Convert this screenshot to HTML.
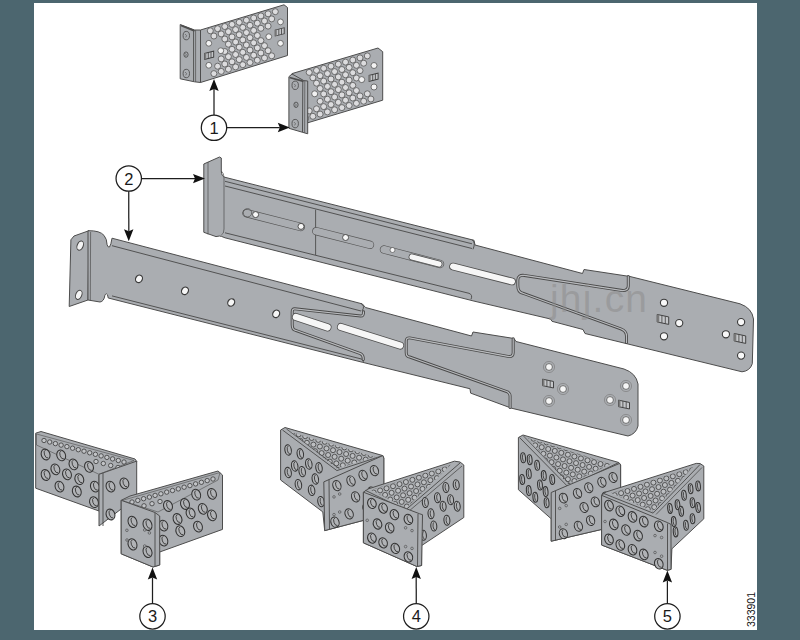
<!DOCTYPE html>
<html><head><meta charset="utf-8"><style>
html,body{margin:0;padding:0;width:800px;height:640px;overflow:hidden;background:#4c666f;}
svg{display:block;}
</style></head><body>
<svg width="800" height="640" viewBox="0 0 800 640">
<rect x="0" y="0" width="800" height="640" fill="#4c666f"/>
<rect x="34" y="3" width="723" height="627" fill="#ffffff"/>
<polygon points="200.5,30.0 284.0,4.8 287.5,7.5 287.5,55.5 200.5,82.5" fill="#aaadb1" stroke="#4d4d4d" stroke-width="1.0" stroke-linejoin="round" />
<g fill="#dcdcde" stroke="#555" stroke-width="0.8"><circle cx="210.3" cy="30.8" r="3.0"/><circle cx="217.6" cy="28.7" r="3.0"/><circle cx="224.8" cy="26.5" r="3.0"/><circle cx="232.0" cy="24.4" r="3.0"/><circle cx="239.2" cy="22.3" r="3.0"/><circle cx="246.4" cy="20.2" r="3.0"/><circle cx="253.7" cy="18.0" r="3.0"/><circle cx="260.9" cy="15.9" r="3.0"/><circle cx="268.1" cy="13.8" r="3.0"/><circle cx="275.3" cy="11.7" r="3.0"/><circle cx="213.9" cy="36.0" r="3.0"/><circle cx="221.2" cy="33.9" r="3.0"/><circle cx="228.4" cy="31.7" r="3.0"/><circle cx="235.6" cy="29.6" r="3.0"/><circle cx="242.8" cy="27.4" r="3.0"/><circle cx="250.0" cy="25.3" r="3.0"/><circle cx="257.3" cy="23.2" r="3.0"/><circle cx="264.5" cy="21.0" r="3.0"/><circle cx="271.7" cy="18.9" r="3.0"/><circle cx="224.8" cy="39.0" r="3.0"/><circle cx="232.0" cy="36.9" r="3.0"/><circle cx="239.2" cy="34.7" r="3.0"/><circle cx="246.4" cy="32.6" r="3.0"/><circle cx="253.7" cy="30.4" r="3.0"/><circle cx="260.9" cy="28.3" r="3.0"/><circle cx="268.1" cy="26.1" r="3.0"/><circle cx="228.4" cy="44.2" r="3.0"/><circle cx="235.6" cy="42.0" r="3.0"/><circle cx="242.8" cy="39.9" r="3.0"/><circle cx="250.0" cy="37.7" r="3.0"/><circle cx="257.3" cy="35.5" r="3.0"/><circle cx="224.8" cy="51.5" r="3.0"/><circle cx="232.0" cy="49.3" r="3.0"/><circle cx="239.2" cy="47.2" r="3.0"/><circle cx="246.4" cy="45.0" r="3.0"/><circle cx="253.7" cy="42.8" r="3.0"/><circle cx="260.9" cy="40.6" r="3.0"/><circle cx="221.2" cy="58.9" r="3.0"/><circle cx="228.4" cy="56.7" r="3.0"/><circle cx="235.6" cy="54.5" r="3.0"/><circle cx="242.8" cy="52.3" r="3.0"/><circle cx="250.0" cy="50.1" r="3.0"/><circle cx="257.3" cy="47.9" r="3.0"/><circle cx="264.5" cy="45.7" r="3.0"/><circle cx="217.6" cy="66.2" r="3.0"/><circle cx="224.8" cy="64.0" r="3.0"/><circle cx="232.0" cy="61.8" r="3.0"/><circle cx="239.2" cy="59.6" r="3.0"/><circle cx="246.4" cy="57.4" r="3.0"/><circle cx="253.7" cy="55.2" r="3.0"/><circle cx="260.9" cy="53.0" r="3.0"/><circle cx="268.1" cy="50.7" r="3.0"/><circle cx="213.9" cy="73.6" r="3.0"/><circle cx="221.2" cy="71.4" r="3.0"/><circle cx="228.4" cy="69.2" r="3.0"/><circle cx="235.6" cy="66.9" r="3.0"/><circle cx="242.8" cy="64.7" r="3.0"/><circle cx="250.0" cy="62.5" r="3.0"/><circle cx="257.3" cy="60.2" r="3.0"/><circle cx="264.5" cy="58.0" r="3.0"/><circle cx="271.7" cy="55.8" r="3.0"/></g>
<circle cx="208.8" cy="43.3" r="2.9" fill="#f2f2f2" stroke="#555" stroke-width="0.8"/>
<circle cx="208.8" cy="65.3" r="2.9" fill="#f2f2f2" stroke="#555" stroke-width="0.8"/>
<circle cx="220.8" cy="50.7" r="2.9" fill="#f2f2f2" stroke="#555" stroke-width="0.8"/>
<circle cx="280.5" cy="21.9" r="2.9" fill="#f2f2f2" stroke="#555" stroke-width="0.8"/>
<circle cx="280.5" cy="43.3" r="2.9" fill="#f2f2f2" stroke="#555" stroke-width="0.8"/>
<circle cx="268.8" cy="36.7" r="2.9" fill="#f2f2f2" stroke="#555" stroke-width="0.8"/>
<g transform="translate(209.2,55.2) skewY(-14)"><rect x="-4.5" y="-3.0" width="9" height="6" fill="#c4c6c9" stroke="#3c3c3c" stroke-width="0.9"/><rect x="-4.5" y="-3.0" width="1.6" height="6" fill="#7a7a7a"/><line x1="-0.9" y1="-3.0" x2="-0.9" y2="3.0" stroke="#444" stroke-width="0.8"/><line x1="1.8" y1="-3.0" x2="1.8" y2="3.0" stroke="#444" stroke-width="0.8"/></g>
<g transform="translate(279.7,31.9) skewY(-14)"><rect x="-4.5" y="-3.0" width="9" height="6" fill="#c4c6c9" stroke="#3c3c3c" stroke-width="0.9"/><rect x="-4.5" y="-3.0" width="1.6" height="6" fill="#7a7a7a"/><line x1="-0.9" y1="-3.0" x2="-0.9" y2="3.0" stroke="#444" stroke-width="0.8"/><line x1="1.8" y1="-3.0" x2="1.8" y2="3.0" stroke="#444" stroke-width="0.8"/></g>
<polygon points="180.2,24.5 194.5,30.0 200.5,30.0 200.5,82.5 194.5,81.8 180.2,78.8" fill="#aaadb1" stroke="#4d4d4d" stroke-width="1.0" stroke-linejoin="round" />
<line x1="181.0" y1="25.5" x2="194.5" y2="30.8" stroke="#4d4d4d" stroke-width="1.8"/>
<line x1="193.6" y1="30.0" x2="193.6" y2="81.5" stroke="#4d4d4d" stroke-width="0.95"/>
<line x1="195.6" y1="30.0" x2="195.6" y2="81.9" stroke="#4d4d4d" stroke-width="0.7"/>
<ellipse cx="186.3" cy="35.6" rx="3.2" ry="4.2" fill="#aaadb1" stroke="#444" stroke-width="0.8"/>
<path d="M185.1,34.1 Q187.8,35.6 185.7,37.4" fill="none" stroke="#555" stroke-width="0.7"/>
<ellipse cx="186.3" cy="73.5" rx="3.2" ry="4.2" fill="#aaadb1" stroke="#444" stroke-width="0.8"/>
<path d="M185.1,72.0 Q187.8,73.5 185.7,75.3" fill="none" stroke="#555" stroke-width="0.7"/>
<ellipse cx="186.0" cy="54.6" rx="2.1" ry="2.7" fill="#aaadb1" stroke="#444" stroke-width="0.8"/>
<path d="M184.8,53.1 Q187.5,54.6 185.4,56.4" fill="none" stroke="#555" stroke-width="0.7"/>
<polygon points="292.0,73.6 378.0,48.0 382.7,51.7 382.7,100.2 307.7,122.8 292.0,127.3" fill="#aaadb1" stroke="#4d4d4d" stroke-width="1.0" stroke-linejoin="round" />
<g fill="#dcdcde" stroke="#555" stroke-width="0.8"><circle cx="309.2" cy="72.4" r="3.0"/><circle cx="316.5" cy="70.4" r="3.0"/><circle cx="323.7" cy="68.3" r="3.0"/><circle cx="331.0" cy="66.2" r="3.0"/><circle cx="338.3" cy="64.2" r="3.0"/><circle cx="345.5" cy="62.1" r="3.0"/><circle cx="352.8" cy="60.0" r="3.0"/><circle cx="360.0" cy="57.9" r="3.0"/><circle cx="367.3" cy="55.9" r="3.0"/><circle cx="312.9" cy="77.8" r="3.0"/><circle cx="320.1" cy="75.7" r="3.0"/><circle cx="327.4" cy="73.6" r="3.0"/><circle cx="334.6" cy="71.6" r="3.0"/><circle cx="341.9" cy="69.5" r="3.0"/><circle cx="349.1" cy="67.4" r="3.0"/><circle cx="356.4" cy="65.3" r="3.0"/><circle cx="363.7" cy="63.2" r="3.0"/><circle cx="316.5" cy="83.2" r="3.0"/><circle cx="323.7" cy="81.1" r="3.0"/><circle cx="331.0" cy="79.0" r="3.0"/><circle cx="338.3" cy="76.9" r="3.0"/><circle cx="345.5" cy="74.8" r="3.0"/><circle cx="352.8" cy="72.7" r="3.0"/><circle cx="360.0" cy="70.6" r="3.0"/><circle cx="320.1" cy="88.5" r="3.0"/><circle cx="327.4" cy="86.4" r="3.0"/><circle cx="334.6" cy="84.3" r="3.0"/><circle cx="341.9" cy="82.2" r="3.0"/><circle cx="349.1" cy="80.1" r="3.0"/><circle cx="356.4" cy="78.0" r="3.0"/><circle cx="323.7" cy="93.9" r="3.0"/><circle cx="331.0" cy="91.7" r="3.0"/><circle cx="338.3" cy="89.6" r="3.0"/><circle cx="345.5" cy="87.5" r="3.0"/><circle cx="352.8" cy="85.4" r="3.0"/><circle cx="320.1" cy="101.3" r="3.0"/><circle cx="327.4" cy="99.2" r="3.0"/><circle cx="334.6" cy="97.0" r="3.0"/><circle cx="341.9" cy="94.9" r="3.0"/><circle cx="349.1" cy="92.8" r="3.0"/><circle cx="356.4" cy="90.6" r="3.0"/><circle cx="309.2" cy="110.9" r="3.0"/><circle cx="316.5" cy="108.8" r="3.0"/><circle cx="323.7" cy="106.6" r="3.0"/><circle cx="331.0" cy="104.5" r="3.0"/><circle cx="338.3" cy="102.3" r="3.0"/><circle cx="345.5" cy="100.2" r="3.0"/><circle cx="352.8" cy="98.0" r="3.0"/><circle cx="360.0" cy="95.9" r="3.0"/><circle cx="367.3" cy="93.8" r="3.0"/><circle cx="305.6" cy="118.4" r="3.0"/><circle cx="312.9" cy="116.3" r="3.0"/><circle cx="320.1" cy="114.1" r="3.0"/><circle cx="327.4" cy="111.9" r="3.0"/><circle cx="334.6" cy="109.8" r="3.0"/><circle cx="341.9" cy="107.6" r="3.0"/><circle cx="349.1" cy="105.5" r="3.0"/><circle cx="356.4" cy="103.3" r="3.0"/><circle cx="363.7" cy="101.2" r="3.0"/><circle cx="370.9" cy="99.0" r="3.0"/></g>
<circle cx="314.7" cy="93.8" r="3.0" fill="#f2f2f2" stroke="#555" stroke-width="0.8"/>
<circle cx="361.7" cy="79.6" r="3.0" fill="#f2f2f2" stroke="#555" stroke-width="0.8"/>
<circle cx="374.0" cy="65.5" r="3.0" fill="#f2f2f2" stroke="#555" stroke-width="0.8"/>
<circle cx="374.0" cy="87.0" r="3.0" fill="#f2f2f2" stroke="#555" stroke-width="0.8"/>
<g transform="translate(373.6,77.2) skewY(-14)"><rect x="-4.5" y="-3.0" width="9" height="6" fill="#c4c6c9" stroke="#3c3c3c" stroke-width="0.9"/><rect x="-4.5" y="-3.0" width="1.6" height="6" fill="#7a7a7a"/><line x1="-0.9" y1="-3.0" x2="-0.9" y2="3.0" stroke="#444" stroke-width="0.8"/><line x1="1.8" y1="-3.0" x2="1.8" y2="3.0" stroke="#444" stroke-width="0.8"/></g>
<polygon points="288.9,76.7 292.0,74.0 303.8,80.6 307.7,81.0 307.7,133.8 302.2,132.2 288.9,128.3" fill="#aaadb1" stroke="#4d4d4d" stroke-width="1.0" stroke-linejoin="round" />
<line x1="289.5" y1="77.5" x2="303.5" y2="81.4" stroke="#4d4d4d" stroke-width="1.8"/>
<line x1="302.8" y1="81.0" x2="302.5" y2="132.2" stroke="#4d4d4d" stroke-width="0.95"/>
<line x1="304.8" y1="81.0" x2="304.6" y2="132.8" stroke="#4d4d4d" stroke-width="0.7"/>
<ellipse cx="295.2" cy="85.3" rx="3.2" ry="4.2" fill="#aaadb1" stroke="#444" stroke-width="0.8"/>
<path d="M294.0,83.8 Q296.7,85.3 294.6,87.1" fill="none" stroke="#555" stroke-width="0.7"/>
<ellipse cx="295.2" cy="123.6" rx="3.2" ry="4.2" fill="#aaadb1" stroke="#444" stroke-width="0.8"/>
<path d="M294.0,122.1 Q296.7,123.6 294.6,125.4" fill="none" stroke="#555" stroke-width="0.7"/>
<ellipse cx="296.0" cy="104.8" rx="2.1" ry="2.7" fill="#aaadb1" stroke="#444" stroke-width="0.8"/>
<path d="M294.8,103.3 Q297.5,104.8 295.4,106.6" fill="none" stroke="#555" stroke-width="0.7"/>
<path d="M203.8,164 L219.5,157 L221.3,158 L221.3,171 Q221.5,176.5 225,177.3 L474,240.3 L475,245 L582.5,273.5 L584,269.5 L630,276.5 L740,303.8 Q752,308 753.5,319 L752.3,363.7 Q750,371 742,371.8 L585,333.5 L583,329.5 L552,321.3 L550.5,319 L474,301.1 L225,237.8 Q221,236 219.5,236 L216,236.6 L203.8,232.3 Z" fill="#aaadb1" stroke="#4d4d4d" stroke-width="1.0" stroke-linejoin="round" />
<line x1="208.0" y1="162.0" x2="208.0" y2="234.5" stroke="#4d4d4d" stroke-width="0.7"/>
<path d="M221.3,171 Q224,173 224,178 L224,229 Q224,234 221.3,235" fill="none" stroke="#4d4d4d" stroke-width="0.7" stroke-linejoin="round" />
<line x1="225.0" y1="181.3" x2="472.0" y2="243.8" stroke="#4d4d4d" stroke-width="0.95"/>
<line x1="225.0" y1="186.0" x2="472.0" y2="248.5" stroke="#4d4d4d" stroke-width="0.95"/>
<path d="M472,239.8 Q476,242.3 473,249.3" fill="none" stroke="#4d4d4d" stroke-width="0.95" stroke-linejoin="round" />
<line x1="225.0" y1="232.8" x2="469.0" y2="293.3" stroke="#4d4d4d" stroke-width="0.95"/>
<path d="M469,293.3 Q473,294.8 471,299.3" fill="none" stroke="#4d4d4d" stroke-width="0.95" stroke-linejoin="round" />
<line x1="315.6" y1="209.7" x2="315.6" y2="255.0" stroke="#4d4d4d" stroke-width="0.9"/>
<line x1="246.5" y1="213.2" x2="300.8" y2="227.0" stroke="#555" stroke-width="8.4" stroke-linecap="round"/>
<line x1="246.5" y1="213.2" x2="300.8" y2="227.0" stroke="#aaadb1" stroke-width="7" stroke-linecap="round"/>
<circle cx="247.5" cy="212.8" r="4.2" fill="none" stroke="#555" stroke-width="0.8"/>
<circle cx="255.6" cy="214.6" r="3.0" fill="#f8f8f8" stroke="#444" stroke-width="0.9"/>
<circle cx="301.0" cy="226.4" r="3.0" fill="#f8f8f8" stroke="#444" stroke-width="0.9"/>
<line x1="316.3" y1="231.2" x2="370.0" y2="244.8" stroke="#555" stroke-width="8.4" stroke-linecap="round"/>
<line x1="316.3" y1="231.2" x2="370.0" y2="244.8" stroke="#aaadb1" stroke-width="7" stroke-linecap="round"/>
<circle cx="345.6" cy="237.5" r="3.0" fill="#f8f8f8" stroke="#444" stroke-width="0.9"/>
<line x1="384.0" y1="249.5" x2="440.0" y2="264.0" stroke="#555" stroke-width="8.4" stroke-linecap="round"/>
<line x1="384.0" y1="249.5" x2="440.0" y2="264.0" stroke="#aaadb1" stroke-width="7" stroke-linecap="round"/>
<line x1="412.0" y1="257.0" x2="439.0" y2="264.0" stroke="#505050" stroke-width="6.800000000000001" stroke-linecap="round"/>
<line x1="412.0" y1="257.0" x2="439.0" y2="264.0" stroke="#f6f6f6" stroke-width="5.2" stroke-linecap="round"/>
<circle cx="392.5" cy="250.0" r="2.5" fill="#f8f8f8" stroke="#555" stroke-width="0.7"/>
<line x1="453.0" y1="266.5" x2="512.0" y2="281.5" stroke="#505050" stroke-width="7.6" stroke-linecap="round"/>
<line x1="453.0" y1="266.5" x2="512.0" y2="281.5" stroke="#f6f6f6" stroke-width="6" stroke-linecap="round"/>
<path d="M628.3,276.5 L628.3,286 Q628.3,290.6 622.5,290.6 L524.5,275.4 Q517.8,274.6 517.8,280 L517.8,285.6 Q517.8,292.5 522.75,293.2 L620.75,328.8 Q626.5,331 626.5,336 L626.5,342.5" fill="none" stroke="#4a4a4a" stroke-width="3.0" stroke-linejoin="round" stroke-linecap="round"/>
<path d="M628.3,276.5 L628.3,286 Q628.3,290.6 622.5,290.6 L524.5,275.4 Q517.8,274.6 517.8,280 L517.8,285.6 Q517.8,292.5 522.75,293.2 L620.75,328.8 Q626.5,331 626.5,336 L626.5,342.5" fill="none" stroke="#b9bbbe" stroke-width="1.2" stroke-linejoin="round" stroke-linecap="round"/>
<circle cx="664.0" cy="302.8" r="3.6" fill="#f8f8f8" stroke="#3a3a3a" stroke-width="1.1"/>
<circle cx="679.2" cy="323.1" r="3.6" fill="#f8f8f8" stroke="#3a3a3a" stroke-width="1.1"/>
<circle cx="664.0" cy="336.3" r="3.6" fill="#f8f8f8" stroke="#3a3a3a" stroke-width="1.1"/>
<circle cx="725.9" cy="334.3" r="3.6" fill="#f8f8f8" stroke="#3a3a3a" stroke-width="1.1"/>
<circle cx="741.1" cy="322.1" r="3.6" fill="#f8f8f8" stroke="#3a3a3a" stroke-width="1.1"/>
<circle cx="741.1" cy="355.6" r="3.6" fill="#f8f8f8" stroke="#3a3a3a" stroke-width="1.1"/>
<g transform="translate(663.0,319.5) skewY(12)"><rect x="-5.8" y="-3.8" width="11.5" height="7.5" fill="#c4c6c9" stroke="#3c3c3c" stroke-width="0.9"/><rect x="-5.8" y="-3.8" width="2.1" height="7.5" fill="#7a7a7a"/><line x1="-1.1" y1="-3.8" x2="-1.1" y2="3.8" stroke="#444" stroke-width="0.8"/><line x1="2.3" y1="-3.8" x2="2.3" y2="3.8" stroke="#444" stroke-width="0.8"/></g>
<g transform="translate(740.0,338.5) skewY(12)"><rect x="-5.8" y="-3.8" width="11.5" height="7.5" fill="#c4c6c9" stroke="#3c3c3c" stroke-width="0.9"/><rect x="-5.8" y="-3.8" width="2.1" height="7.5" fill="#7a7a7a"/><line x1="-1.1" y1="-3.8" x2="-1.1" y2="3.8" stroke="#444" stroke-width="0.8"/><line x1="2.3" y1="-3.8" x2="2.3" y2="3.8" stroke="#444" stroke-width="0.8"/></g>
<polygon points="70.9,239.8 74.0,236.0 89.0,230.7 88.0,300.0 69.2,306.5" fill="#aaadb1" stroke="#4d4d4d" stroke-width="1.0" stroke-linejoin="round" />
<ellipse cx="80.2" cy="245.6" rx="3.0" ry="4.8" transform="rotate(22.0 80.2 245.6)" fill="#f4f4f4" stroke="#444" stroke-width="1.0"/>
<ellipse cx="78.8" cy="294.8" rx="3.0" ry="4.8" transform="rotate(22.0 78.8 294.8)" fill="#f4f4f4" stroke="#444" stroke-width="1.0"/>
<path d="M88,230.7 Q100,230.5 104,235.4 Q107,239 107.1,244.75 Q108,247.8 109.5,247 Q111,245 112,238.2 L362.3,303.9 L365.5,307.5 L471.5,336 L473,332 L514,338.5 L516,341.5 L624,369 Q636,373 638,384 L638,426 Q636,434 628,436 L511.5,408.2 L470.6,393.1 L470,388.75 L362.5,362.3 L108.25,298.0 Q107.5,293.5 106.5,293.8 Q104.9,294.5 104.9,295.25 Q104,301.5 100,302 L88,300 Z" fill="#aaadb1" stroke="#4d4d4d" stroke-width="1.0" stroke-linejoin="round" />
<line x1="90.6" y1="232.0" x2="90.3" y2="300.5" stroke="#4d4d4d" stroke-width="0.7"/>
<line x1="112.0" y1="245.7" x2="361.0" y2="311.0" stroke="#4d4d4d" stroke-width="0.95"/>
<line x1="112.0" y1="295.9" x2="361.0" y2="358.9" stroke="#4d4d4d" stroke-width="0.95"/>
<path d="M361,358.9 Q365,359.9 363,362.4" fill="none" stroke="#4d4d4d" stroke-width="0.95" stroke-linejoin="round" />
<path d="M361,303.5 Q365.5,306.0 362,311.0" fill="none" stroke="#4d4d4d" stroke-width="0.95" stroke-linejoin="round" />
<ellipse cx="139.0" cy="278.8" rx="3.3" ry="3.9" transform="rotate(30.0 139.0 278.8)" fill="#f6f6f6" stroke="#3a3a3a" stroke-width="1.2"/>
<ellipse cx="185.0" cy="290.8" rx="3.3" ry="3.9" transform="rotate(30.0 185.0 290.8)" fill="#f6f6f6" stroke="#3a3a3a" stroke-width="1.2"/>
<ellipse cx="231.2" cy="302.5" rx="3.3" ry="3.9" transform="rotate(30.0 231.2 302.5)" fill="#f6f6f6" stroke="#3a3a3a" stroke-width="1.2"/>
<ellipse cx="276.2" cy="313.8" rx="3.3" ry="3.9" transform="rotate(30.0 276.2 313.8)" fill="#f6f6f6" stroke="#3a3a3a" stroke-width="1.2"/>
<path d="M363.5,311.8 Q363.8,316.3 360.5,316.0 L294.8,308.8 Q292.2,308.6 292.2,312 L292.2,324.5 Q292.2,329.8 295.5,330.3 L360.5,353.6 Q363.5,355 363.3,359.5" fill="none" stroke="#4a4a4a" stroke-width="3.0" stroke-linejoin="round" stroke-linecap="round"/>
<path d="M363.5,311.8 Q363.8,316.3 360.5,316.0 L294.8,308.8 Q292.2,308.6 292.2,312 L292.2,324.5 Q292.2,329.8 295.5,330.3 L360.5,353.6 Q363.5,355 363.3,359.5" fill="none" stroke="#b9bbbe" stroke-width="1.2" stroke-linejoin="round" stroke-linecap="round"/>
<line x1="296.0" y1="317.0" x2="327.5" y2="327.3" stroke="#505050" stroke-width="8.1" stroke-linecap="round"/>
<line x1="296.0" y1="317.0" x2="327.5" y2="327.3" stroke="#f6f6f6" stroke-width="6.5" stroke-linecap="round"/>
<line x1="341.0" y1="327.0" x2="400.0" y2="345.5" stroke="#505050" stroke-width="8.1" stroke-linecap="round"/>
<line x1="341.0" y1="327.0" x2="400.0" y2="345.5" stroke="#f6f6f6" stroke-width="6.5" stroke-linecap="round"/>
<path d="M513.2,338.8 L513.2,352.5 Q513.2,356.6 509.2,356.6 L409.7,337.9 Q406.2,337.6 406.2,341 L406.2,352.5 Q406.2,356.8 409.7,357 L507.4,391.8 Q510.1,393.5 510.1,396 L510.1,407.6" fill="none" stroke="#4a4a4a" stroke-width="3.0" stroke-linejoin="round" stroke-linecap="round"/>
<path d="M513.2,338.8 L513.2,352.5 Q513.2,356.6 509.2,356.6 L409.7,337.9 Q406.2,337.6 406.2,341 L406.2,352.5 Q406.2,356.8 409.7,357 L507.4,391.8 Q510.1,393.5 510.1,396 L510.1,407.6" fill="none" stroke="#b9bbbe" stroke-width="1.2" stroke-linejoin="round" stroke-linecap="round"/>
<circle cx="549.0" cy="367.0" r="3.4" fill="#f6f6f6" stroke="#555" stroke-width="0.8"/>
<circle cx="549.0" cy="367.0" r="5.6" fill="none" stroke="#777" stroke-width="0.6"/>
<circle cx="563.0" cy="389.0" r="3.4" fill="#f6f6f6" stroke="#555" stroke-width="0.8"/>
<circle cx="563.0" cy="389.0" r="5.6" fill="none" stroke="#777" stroke-width="0.6"/>
<circle cx="549.0" cy="401.0" r="3.4" fill="#f6f6f6" stroke="#555" stroke-width="0.8"/>
<circle cx="549.0" cy="401.0" r="5.6" fill="none" stroke="#777" stroke-width="0.6"/>
<circle cx="610.0" cy="400.0" r="3.4" fill="#f6f6f6" stroke="#555" stroke-width="0.8"/>
<circle cx="610.0" cy="400.0" r="5.6" fill="none" stroke="#777" stroke-width="0.6"/>
<circle cx="626.0" cy="386.0" r="3.4" fill="#f6f6f6" stroke="#555" stroke-width="0.8"/>
<circle cx="626.0" cy="386.0" r="5.6" fill="none" stroke="#777" stroke-width="0.6"/>
<circle cx="626.0" cy="420.0" r="3.4" fill="#f6f6f6" stroke="#555" stroke-width="0.8"/>
<circle cx="626.0" cy="420.0" r="5.6" fill="none" stroke="#777" stroke-width="0.6"/>
<g transform="translate(548.0,383.5) skewY(12)"><rect x="-5.5" y="-3.2" width="11" height="6.5" fill="#c4c6c9" stroke="#3c3c3c" stroke-width="0.9"/><rect x="-5.5" y="-3.2" width="2.0" height="6.5" fill="#7a7a7a"/><line x1="-1.1" y1="-3.2" x2="-1.1" y2="3.2" stroke="#444" stroke-width="0.8"/><line x1="2.2" y1="-3.2" x2="2.2" y2="3.2" stroke="#444" stroke-width="0.8"/></g>
<g transform="translate(624.0,404.5) skewY(12)"><rect x="-5.5" y="-3.2" width="11" height="6.5" fill="#c4c6c9" stroke="#3c3c3c" stroke-width="0.9"/><rect x="-5.5" y="-3.2" width="2.0" height="6.5" fill="#7a7a7a"/><line x1="-1.1" y1="-3.2" x2="-1.1" y2="3.2" stroke="#444" stroke-width="0.8"/><line x1="2.2" y1="-3.2" x2="2.2" y2="3.2" stroke="#444" stroke-width="0.8"/></g>
<polygon points="35.7,433.2 41.0,431.5 135.0,459.0 137.0,462.0 99.0,475.0 99.0,511.0 35.7,488.2" fill="#aaadb1" stroke="#4d4d4d" stroke-width="1.0" stroke-linejoin="round" />
<polygon points="36.5,434.0 134.0,460.5 99.0,474.3 36.5,445.0" fill="#aaadb1" stroke="#4d4d4d" stroke-width="0.6" stroke-linejoin="round" />
<circle cx="44.0" cy="440.5" r="2.2" fill="#c2c4c7" stroke="#3a3a3a" stroke-width="0.8"/>
<circle cx="49.7" cy="442.0" r="2.2" fill="#c2c4c7" stroke="#3a3a3a" stroke-width="0.8"/>
<circle cx="55.4" cy="443.6" r="2.2" fill="#c2c4c7" stroke="#3a3a3a" stroke-width="0.8"/>
<circle cx="61.1" cy="445.1" r="2.2" fill="#c2c4c7" stroke="#3a3a3a" stroke-width="0.8"/>
<circle cx="66.9" cy="446.6" r="2.2" fill="#c2c4c7" stroke="#3a3a3a" stroke-width="0.8"/>
<circle cx="72.6" cy="448.2" r="2.2" fill="#c2c4c7" stroke="#3a3a3a" stroke-width="0.8"/>
<circle cx="78.3" cy="449.7" r="2.2" fill="#c2c4c7" stroke="#3a3a3a" stroke-width="0.8"/>
<circle cx="84.0" cy="451.2" r="2.2" fill="#c2c4c7" stroke="#3a3a3a" stroke-width="0.8"/>
<circle cx="89.7" cy="452.8" r="2.2" fill="#c2c4c7" stroke="#3a3a3a" stroke-width="0.8"/>
<circle cx="95.4" cy="454.3" r="2.2" fill="#c2c4c7" stroke="#3a3a3a" stroke-width="0.8"/>
<circle cx="101.1" cy="455.9" r="2.2" fill="#c2c4c7" stroke="#3a3a3a" stroke-width="0.8"/>
<circle cx="106.9" cy="457.4" r="2.2" fill="#c2c4c7" stroke="#3a3a3a" stroke-width="0.8"/>
<circle cx="112.6" cy="458.9" r="2.2" fill="#c2c4c7" stroke="#3a3a3a" stroke-width="0.8"/>
<circle cx="118.3" cy="460.5" r="2.2" fill="#c2c4c7" stroke="#3a3a3a" stroke-width="0.8"/>
<circle cx="124.0" cy="462.0" r="2.2" fill="#c2c4c7" stroke="#3a3a3a" stroke-width="0.8"/>
<circle cx="96.0" cy="461.5" r="2.2" fill="#c2c4c7" stroke="#3a3a3a" stroke-width="0.8"/>
<circle cx="103.3" cy="463.5" r="2.2" fill="#c2c4c7" stroke="#3a3a3a" stroke-width="0.8"/>
<circle cx="110.7" cy="465.5" r="2.2" fill="#c2c4c7" stroke="#3a3a3a" stroke-width="0.8"/>
<circle cx="118.0" cy="467.5" r="2.2" fill="#c2c4c7" stroke="#3a3a3a" stroke-width="0.8"/>
<ellipse cx="45.6" cy="454.5" rx="4.3" ry="5.5" transform="rotate(-20.0 45.6 454.5)" fill="#b1b3b6" stroke="#333" stroke-width="1.05"/>
<path transform="translate(45.6,454.5) rotate(-20)" d="M1.3,-4.1 A2.4,4.1 0 0 0 1.3,4.1" fill="none" stroke="#3a3a3a" stroke-width="0.85"/>
<ellipse cx="61.2" cy="455.4" rx="4.3" ry="5.5" transform="rotate(-20.0 61.2 455.4)" fill="#b1b3b6" stroke="#333" stroke-width="1.05"/>
<path transform="translate(61.2,455.4) rotate(-20)" d="M1.3,-4.1 A2.4,4.1 0 0 0 1.3,4.1" fill="none" stroke="#3a3a3a" stroke-width="0.85"/>
<ellipse cx="73.5" cy="464.4" rx="4.3" ry="5.5" transform="rotate(-20.0 73.5 464.4)" fill="#b1b3b6" stroke="#333" stroke-width="1.05"/>
<path transform="translate(73.5,464.4) rotate(-20)" d="M1.3,-4.1 A2.4,4.1 0 0 0 1.3,4.1" fill="none" stroke="#3a3a3a" stroke-width="0.85"/>
<ellipse cx="89.0" cy="466.9" rx="4.3" ry="5.5" transform="rotate(-20.0 89.0 466.9)" fill="#b1b3b6" stroke="#333" stroke-width="1.05"/>
<path transform="translate(89.0,466.9) rotate(-20)" d="M1.3,-4.1 A2.4,4.1 0 0 0 1.3,4.1" fill="none" stroke="#3a3a3a" stroke-width="0.85"/>
<ellipse cx="55.4" cy="469.3" rx="4.3" ry="5.5" transform="rotate(-20.0 55.4 469.3)" fill="#b1b3b6" stroke="#333" stroke-width="1.05"/>
<path transform="translate(55.4,469.3) rotate(-20)" d="M1.3,-4.1 A2.4,4.1 0 0 0 1.3,4.1" fill="none" stroke="#3a3a3a" stroke-width="0.85"/>
<ellipse cx="67.0" cy="474.3" rx="4.3" ry="5.5" transform="rotate(-20.0 67.0 474.3)" fill="#b1b3b6" stroke="#333" stroke-width="1.05"/>
<path transform="translate(67.0,474.3) rotate(-20)" d="M1.3,-4.1 A2.4,4.1 0 0 0 1.3,4.1" fill="none" stroke="#3a3a3a" stroke-width="0.85"/>
<ellipse cx="79.3" cy="479.2" rx="4.3" ry="5.5" transform="rotate(-20.0 79.3 479.2)" fill="#b1b3b6" stroke="#333" stroke-width="1.05"/>
<path transform="translate(79.3,479.2) rotate(-20)" d="M1.3,-4.1 A2.4,4.1 0 0 0 1.3,4.1" fill="none" stroke="#3a3a3a" stroke-width="0.85"/>
<ellipse cx="45.6" cy="475.0" rx="4.3" ry="5.5" transform="rotate(-20.0 45.6 475.0)" fill="#b1b3b6" stroke="#333" stroke-width="1.05"/>
<path transform="translate(45.6,475.0) rotate(-20)" d="M1.3,-4.1 A2.4,4.1 0 0 0 1.3,4.1" fill="none" stroke="#3a3a3a" stroke-width="0.85"/>
<ellipse cx="59.5" cy="486.6" rx="4.3" ry="5.5" transform="rotate(-20.0 59.5 486.6)" fill="#b1b3b6" stroke="#333" stroke-width="1.05"/>
<path transform="translate(59.5,486.6) rotate(-20)" d="M1.3,-4.1 A2.4,4.1 0 0 0 1.3,4.1" fill="none" stroke="#3a3a3a" stroke-width="0.85"/>
<ellipse cx="76.8" cy="491.5" rx="4.3" ry="5.5" transform="rotate(-20.0 76.8 491.5)" fill="#b1b3b6" stroke="#333" stroke-width="1.05"/>
<path transform="translate(76.8,491.5) rotate(-20)" d="M1.3,-4.1 A2.4,4.1 0 0 0 1.3,4.1" fill="none" stroke="#3a3a3a" stroke-width="0.85"/>
<ellipse cx="94.9" cy="486.6" rx="4.3" ry="5.5" transform="rotate(-20.0 94.9 486.6)" fill="#b1b3b6" stroke="#333" stroke-width="1.05"/>
<path transform="translate(94.9,486.6) rotate(-20)" d="M1.3,-4.1 A2.4,4.1 0 0 0 1.3,4.1" fill="none" stroke="#3a3a3a" stroke-width="0.85"/>
<ellipse cx="94.0" cy="502.2" rx="4.3" ry="5.5" transform="rotate(-20.0 94.0 502.2)" fill="#b1b3b6" stroke="#333" stroke-width="1.05"/>
<path transform="translate(94.0,502.2) rotate(-20)" d="M1.3,-4.1 A2.4,4.1 0 0 0 1.3,4.1" fill="none" stroke="#3a3a3a" stroke-width="0.85"/>
<polygon points="99.0,474.3 136.7,461.1 136.7,497.0 99.0,526.0" fill="#aaadb1" stroke="#4d4d4d" stroke-width="1.0" stroke-linejoin="round" />
<line x1="103.0" y1="473.0" x2="103.0" y2="526.0" stroke="#4d4d4d" stroke-width="0.95"/>
<ellipse cx="110.5" cy="486.6" rx="4.3" ry="5.5" transform="rotate(-20.0 110.5 486.6)" fill="#b1b3b6" stroke="#333" stroke-width="1.05"/>
<path transform="translate(110.5,486.6) rotate(-20)" d="M1.3,-4.1 A2.4,4.1 0 0 0 1.3,4.1" fill="none" stroke="#3a3a3a" stroke-width="0.85"/>
<ellipse cx="124.4" cy="483.3" rx="4.3" ry="5.5" transform="rotate(-20.0 124.4 483.3)" fill="#b1b3b6" stroke="#333" stroke-width="1.05"/>
<path transform="translate(124.4,483.3) rotate(-20)" d="M1.3,-4.1 A2.4,4.1 0 0 0 1.3,4.1" fill="none" stroke="#3a3a3a" stroke-width="0.85"/>
<ellipse cx="110.5" cy="514.5" rx="4.3" ry="5.5" transform="rotate(-20.0 110.5 514.5)" fill="#b1b3b6" stroke="#333" stroke-width="1.05"/>
<path transform="translate(110.5,514.5) rotate(-20)" d="M1.3,-4.1 A2.4,4.1 0 0 0 1.3,4.1" fill="none" stroke="#3a3a3a" stroke-width="0.85"/>
<polygon points="121.2,500.3 130.0,496.0 218.0,471.0 222.5,475.0 222.5,529.4 159.7,552.0 159.7,565.0 153.0,567.0 121.2,553.8" fill="#aaadb1" stroke="#4d4d4d" stroke-width="1.0" stroke-linejoin="round" />
<polygon points="122.0,500.5 220.0,472.5 218.0,480.0 158.0,512.0" fill="#aaadb1" stroke="#4d4d4d" stroke-width="0.6" stroke-linejoin="round" />
<circle cx="132.0" cy="502.0" r="2.2" fill="#c2c4c7" stroke="#3a3a3a" stroke-width="0.8"/>
<circle cx="137.8" cy="500.4" r="2.2" fill="#c2c4c7" stroke="#3a3a3a" stroke-width="0.8"/>
<circle cx="143.6" cy="498.7" r="2.2" fill="#c2c4c7" stroke="#3a3a3a" stroke-width="0.8"/>
<circle cx="149.4" cy="497.1" r="2.2" fill="#c2c4c7" stroke="#3a3a3a" stroke-width="0.8"/>
<circle cx="155.1" cy="495.4" r="2.2" fill="#c2c4c7" stroke="#3a3a3a" stroke-width="0.8"/>
<circle cx="160.9" cy="493.8" r="2.2" fill="#c2c4c7" stroke="#3a3a3a" stroke-width="0.8"/>
<circle cx="166.7" cy="492.1" r="2.2" fill="#c2c4c7" stroke="#3a3a3a" stroke-width="0.8"/>
<circle cx="172.5" cy="490.5" r="2.2" fill="#c2c4c7" stroke="#3a3a3a" stroke-width="0.8"/>
<circle cx="178.3" cy="488.9" r="2.2" fill="#c2c4c7" stroke="#3a3a3a" stroke-width="0.8"/>
<circle cx="184.1" cy="487.2" r="2.2" fill="#c2c4c7" stroke="#3a3a3a" stroke-width="0.8"/>
<circle cx="189.9" cy="485.6" r="2.2" fill="#c2c4c7" stroke="#3a3a3a" stroke-width="0.8"/>
<circle cx="195.6" cy="483.9" r="2.2" fill="#c2c4c7" stroke="#3a3a3a" stroke-width="0.8"/>
<circle cx="201.4" cy="482.3" r="2.2" fill="#c2c4c7" stroke="#3a3a3a" stroke-width="0.8"/>
<circle cx="207.2" cy="480.6" r="2.2" fill="#c2c4c7" stroke="#3a3a3a" stroke-width="0.8"/>
<circle cx="213.0" cy="479.0" r="2.2" fill="#c2c4c7" stroke="#3a3a3a" stroke-width="0.8"/>
<circle cx="136.0" cy="508.0" r="2.2" fill="#c2c4c7" stroke="#3a3a3a" stroke-width="0.8"/>
<circle cx="144.0" cy="505.8" r="2.2" fill="#c2c4c7" stroke="#3a3a3a" stroke-width="0.8"/>
<circle cx="152.0" cy="503.7" r="2.2" fill="#c2c4c7" stroke="#3a3a3a" stroke-width="0.8"/>
<circle cx="160.0" cy="501.5" r="2.2" fill="#c2c4c7" stroke="#3a3a3a" stroke-width="0.8"/>
<ellipse cx="168.0" cy="506.0" rx="4.3" ry="5.5" transform="rotate(-20.0 168.0 506.0)" fill="#b1b3b6" stroke="#333" stroke-width="1.05"/>
<path transform="translate(168.0,506.0) rotate(-20)" d="M1.3,-4.1 A2.4,4.1 0 0 0 1.3,4.1" fill="none" stroke="#3a3a3a" stroke-width="0.85"/>
<ellipse cx="185.0" cy="504.0" rx="4.3" ry="5.5" transform="rotate(-20.0 185.0 504.0)" fill="#b1b3b6" stroke="#333" stroke-width="1.05"/>
<path transform="translate(185.0,504.0) rotate(-20)" d="M1.3,-4.1 A2.4,4.1 0 0 0 1.3,4.1" fill="none" stroke="#3a3a3a" stroke-width="0.85"/>
<ellipse cx="196.2" cy="494.7" rx="4.3" ry="5.5" transform="rotate(-20.0 196.2 494.7)" fill="#b1b3b6" stroke="#333" stroke-width="1.05"/>
<path transform="translate(196.2,494.7) rotate(-20)" d="M1.3,-4.1 A2.4,4.1 0 0 0 1.3,4.1" fill="none" stroke="#3a3a3a" stroke-width="0.85"/>
<ellipse cx="212.0" cy="493.8" rx="4.3" ry="5.5" transform="rotate(-20.0 212.0 493.8)" fill="#b1b3b6" stroke="#333" stroke-width="1.05"/>
<path transform="translate(212.0,493.8) rotate(-20)" d="M1.3,-4.1 A2.4,4.1 0 0 0 1.3,4.1" fill="none" stroke="#3a3a3a" stroke-width="0.85"/>
<ellipse cx="177.5" cy="519.0" rx="4.3" ry="5.5" transform="rotate(-20.0 177.5 519.0)" fill="#b1b3b6" stroke="#333" stroke-width="1.05"/>
<path transform="translate(177.5,519.0) rotate(-20)" d="M1.3,-4.1 A2.4,4.1 0 0 0 1.3,4.1" fill="none" stroke="#3a3a3a" stroke-width="0.85"/>
<ellipse cx="190.6" cy="513.4" rx="4.3" ry="5.5" transform="rotate(-20.0 190.6 513.4)" fill="#b1b3b6" stroke="#333" stroke-width="1.05"/>
<path transform="translate(190.6,513.4) rotate(-20)" d="M1.3,-4.1 A2.4,4.1 0 0 0 1.3,4.1" fill="none" stroke="#3a3a3a" stroke-width="0.85"/>
<ellipse cx="202.8" cy="508.8" rx="4.3" ry="5.5" transform="rotate(-20.0 202.8 508.8)" fill="#b1b3b6" stroke="#333" stroke-width="1.05"/>
<path transform="translate(202.8,508.8) rotate(-20)" d="M1.3,-4.1 A2.4,4.1 0 0 0 1.3,4.1" fill="none" stroke="#3a3a3a" stroke-width="0.85"/>
<ellipse cx="212.0" cy="515.3" rx="4.3" ry="5.5" transform="rotate(-20.0 212.0 515.3)" fill="#b1b3b6" stroke="#333" stroke-width="1.05"/>
<path transform="translate(212.0,515.3) rotate(-20)" d="M1.3,-4.1 A2.4,4.1 0 0 0 1.3,4.1" fill="none" stroke="#3a3a3a" stroke-width="0.85"/>
<ellipse cx="180.3" cy="531.2" rx="4.3" ry="5.5" transform="rotate(-20.0 180.3 531.2)" fill="#b1b3b6" stroke="#333" stroke-width="1.05"/>
<path transform="translate(180.3,531.2) rotate(-20)" d="M1.3,-4.1 A2.4,4.1 0 0 0 1.3,4.1" fill="none" stroke="#3a3a3a" stroke-width="0.85"/>
<ellipse cx="198.0" cy="526.6" rx="4.3" ry="5.5" transform="rotate(-20.0 198.0 526.6)" fill="#b1b3b6" stroke="#333" stroke-width="1.05"/>
<path transform="translate(198.0,526.6) rotate(-20)" d="M1.3,-4.1 A2.4,4.1 0 0 0 1.3,4.1" fill="none" stroke="#3a3a3a" stroke-width="0.85"/>
<ellipse cx="163.4" cy="525.6" rx="4.3" ry="5.5" transform="rotate(-20.0 163.4 525.6)" fill="#b1b3b6" stroke="#333" stroke-width="1.05"/>
<path transform="translate(163.4,525.6) rotate(-20)" d="M1.3,-4.1 A2.4,4.1 0 0 0 1.3,4.1" fill="none" stroke="#3a3a3a" stroke-width="0.85"/>
<ellipse cx="163.4" cy="540.6" rx="4.3" ry="5.5" transform="rotate(-20.0 163.4 540.6)" fill="#b1b3b6" stroke="#333" stroke-width="1.05"/>
<path transform="translate(163.4,540.6) rotate(-20)" d="M1.3,-4.1 A2.4,4.1 0 0 0 1.3,4.1" fill="none" stroke="#3a3a3a" stroke-width="0.85"/>
<polygon points="121.2,500.3 155.0,512.5 159.7,516.0 159.7,565.0 153.0,567.0 121.2,553.8" fill="#aaadb1" stroke="#4d4d4d" stroke-width="1.0" stroke-linejoin="round" />
<line x1="155.0" y1="513.0" x2="155.0" y2="566.0" stroke="#4d4d4d" stroke-width="0.95"/>
<ellipse cx="132.5" cy="521.9" rx="4.3" ry="5.8" transform="rotate(-20.0 132.5 521.9)" fill="#b1b3b6" stroke="#333" stroke-width="1.05"/>
<path transform="translate(132.5,521.9) rotate(-20)" d="M1.3,-4.3 A2.4,4.3 0 0 0 1.3,4.3" fill="none" stroke="#3a3a3a" stroke-width="0.85"/>
<ellipse cx="132.5" cy="544.4" rx="4.3" ry="5.8" transform="rotate(-20.0 132.5 544.4)" fill="#b1b3b6" stroke="#333" stroke-width="1.05"/>
<path transform="translate(132.5,544.4) rotate(-20)" d="M1.3,-4.3 A2.4,4.3 0 0 0 1.3,4.3" fill="none" stroke="#3a3a3a" stroke-width="0.85"/>
<ellipse cx="147.5" cy="524.7" rx="4.3" ry="5.8" transform="rotate(-20.0 147.5 524.7)" fill="#b1b3b6" stroke="#333" stroke-width="1.05"/>
<path transform="translate(147.5,524.7) rotate(-20)" d="M1.3,-4.3 A2.4,4.3 0 0 0 1.3,4.3" fill="none" stroke="#3a3a3a" stroke-width="0.85"/>
<ellipse cx="147.5" cy="551.9" rx="4.3" ry="5.8" transform="rotate(-20.0 147.5 551.9)" fill="#b1b3b6" stroke="#333" stroke-width="1.05"/>
<path transform="translate(147.5,551.9) rotate(-20)" d="M1.3,-4.3 A2.4,4.3 0 0 0 1.3,4.3" fill="none" stroke="#3a3a3a" stroke-width="0.85"/>
<circle cx="126.9" cy="530.3" r="1.3" fill="#aaadb1" stroke="#444" stroke-width="0.6"/>
<circle cx="144.7" cy="530.0" r="1.3" fill="#aaadb1" stroke="#444" stroke-width="0.6"/>
<circle cx="149.4" cy="532.9" r="1.3" fill="#aaadb1" stroke="#444" stroke-width="0.6"/>
<circle cx="144.7" cy="546.0" r="1.3" fill="#aaadb1" stroke="#444" stroke-width="0.6"/>
<circle cx="127.0" cy="540.0" r="1.3" fill="#aaadb1" stroke="#444" stroke-width="0.6"/>
<polygon points="280.6,430.0 285.0,427.5 382.8,455.6 383.8,458.0 383.8,515.0 324.7,530.6 322.8,511.9 280.6,480.0" fill="#aaadb1" stroke="#4d4d4d" stroke-width="1.0" stroke-linejoin="round" />
<clipPath id="cg1"><polygon points="291.0,432.0 375.0,457.0 337.0,468.5"/></clipPath>
<g clip-path="url(#cg1)" fill="#bcbec1" stroke="#444" stroke-width="0.85"><circle cx="364.0" cy="428.5" r="2.5"/><circle cx="370.5" cy="430.4" r="2.5"/><circle cx="377.1" cy="432.3" r="2.5"/><circle cx="346.0" cy="429.5" r="2.5"/><circle cx="352.6" cy="431.4" r="2.5"/><circle cx="359.1" cy="433.2" r="2.5"/><circle cx="365.6" cy="435.1" r="2.5"/><circle cx="372.2" cy="437.0" r="2.5"/><circle cx="378.7" cy="438.9" r="2.5"/><circle cx="321.5" cy="428.6" r="2.5"/><circle cx="328.1" cy="430.5" r="2.5"/><circle cx="334.6" cy="432.3" r="2.5"/><circle cx="341.1" cy="434.2" r="2.5"/><circle cx="347.7" cy="436.1" r="2.5"/><circle cx="354.2" cy="438.0" r="2.5"/><circle cx="360.7" cy="439.8" r="2.5"/><circle cx="367.3" cy="441.7" r="2.5"/><circle cx="373.8" cy="443.6" r="2.5"/><circle cx="303.6" cy="429.6" r="2.5"/><circle cx="310.1" cy="431.4" r="2.5"/><circle cx="316.6" cy="433.3" r="2.5"/><circle cx="323.2" cy="435.2" r="2.5"/><circle cx="329.7" cy="437.1" r="2.5"/><circle cx="336.2" cy="438.9" r="2.5"/><circle cx="342.8" cy="440.8" r="2.5"/><circle cx="349.3" cy="442.7" r="2.5"/><circle cx="355.9" cy="444.6" r="2.5"/><circle cx="362.4" cy="446.4" r="2.5"/><circle cx="368.9" cy="448.3" r="2.5"/><circle cx="375.5" cy="450.2" r="2.5"/><circle cx="292.1" cy="432.4" r="2.5"/><circle cx="298.7" cy="434.3" r="2.5"/><circle cx="305.2" cy="436.2" r="2.5"/><circle cx="311.7" cy="438.0" r="2.5"/><circle cx="318.3" cy="439.9" r="2.5"/><circle cx="324.8" cy="441.8" r="2.5"/><circle cx="331.4" cy="443.7" r="2.5"/><circle cx="337.9" cy="445.5" r="2.5"/><circle cx="344.4" cy="447.4" r="2.5"/><circle cx="351.0" cy="449.3" r="2.5"/><circle cx="357.5" cy="451.1" r="2.5"/><circle cx="364.0" cy="453.0" r="2.5"/><circle cx="370.6" cy="454.9" r="2.5"/><circle cx="377.1" cy="456.8" r="2.5"/><circle cx="287.2" cy="437.1" r="2.5"/><circle cx="293.8" cy="439.0" r="2.5"/><circle cx="300.3" cy="440.9" r="2.5"/><circle cx="306.9" cy="442.8" r="2.5"/><circle cx="313.4" cy="444.6" r="2.5"/><circle cx="319.9" cy="446.5" r="2.5"/><circle cx="326.5" cy="448.4" r="2.5"/><circle cx="333.0" cy="450.2" r="2.5"/><circle cx="339.5" cy="452.1" r="2.5"/><circle cx="346.1" cy="454.0" r="2.5"/><circle cx="352.6" cy="455.9" r="2.5"/><circle cx="359.1" cy="457.7" r="2.5"/><circle cx="365.7" cy="459.6" r="2.5"/><circle cx="372.2" cy="461.5" r="2.5"/><circle cx="378.8" cy="463.4" r="2.5"/><circle cx="288.9" cy="443.7" r="2.5"/><circle cx="295.4" cy="445.6" r="2.5"/><circle cx="302.0" cy="447.5" r="2.5"/><circle cx="308.5" cy="449.4" r="2.5"/><circle cx="315.0" cy="451.2" r="2.5"/><circle cx="321.6" cy="453.1" r="2.5"/><circle cx="328.1" cy="455.0" r="2.5"/><circle cx="334.6" cy="456.8" r="2.5"/><circle cx="341.2" cy="458.7" r="2.5"/><circle cx="347.7" cy="460.6" r="2.5"/><circle cx="354.3" cy="462.5" r="2.5"/><circle cx="360.8" cy="464.3" r="2.5"/><circle cx="367.3" cy="466.2" r="2.5"/><circle cx="373.9" cy="468.1" r="2.5"/><circle cx="290.5" cy="450.3" r="2.5"/><circle cx="297.1" cy="452.2" r="2.5"/><circle cx="303.6" cy="454.1" r="2.5"/><circle cx="310.1" cy="455.9" r="2.5"/><circle cx="316.7" cy="457.8" r="2.5"/><circle cx="323.2" cy="459.7" r="2.5"/><circle cx="329.8" cy="461.6" r="2.5"/><circle cx="336.3" cy="463.4" r="2.5"/><circle cx="342.8" cy="465.3" r="2.5"/><circle cx="349.4" cy="467.2" r="2.5"/><circle cx="355.9" cy="469.1" r="2.5"/><circle cx="362.4" cy="470.9" r="2.5"/><circle cx="292.2" cy="456.9" r="2.5"/><circle cx="298.7" cy="458.8" r="2.5"/><circle cx="305.3" cy="460.7" r="2.5"/><circle cx="311.8" cy="462.5" r="2.5"/><circle cx="318.3" cy="464.4" r="2.5"/><circle cx="324.9" cy="466.3" r="2.5"/><circle cx="331.4" cy="468.2" r="2.5"/><circle cx="337.9" cy="470.0" r="2.5"/><circle cx="344.5" cy="471.9" r="2.5"/><circle cx="287.3" cy="461.6" r="2.5"/><circle cx="293.8" cy="463.5" r="2.5"/><circle cx="300.4" cy="465.4" r="2.5"/><circle cx="306.9" cy="467.3" r="2.5"/><circle cx="313.4" cy="469.1" r="2.5"/><circle cx="320.0" cy="471.0" r="2.5"/><circle cx="288.9" cy="468.2" r="2.5"/><circle cx="295.5" cy="470.1" r="2.5"/><circle cx="302.0" cy="472.0" r="2.5"/></g>
<line x1="282.5" y1="430.0" x2="336.9" y2="470.6" stroke="#4d4d4d" stroke-width="0.95"/>
<line x1="286.5" y1="429.0" x2="339.5" y2="468.8" stroke="#4d4d4d" stroke-width="0.8"/>
<line x1="336.9" y1="470.6" x2="382.8" y2="455.6" stroke="#4d4d4d" stroke-width="0.95"/>
<ellipse cx="288.1" cy="450.0" rx="3.2" ry="5.2" transform="rotate(-10.0 288.1 450.0)" fill="#b1b3b6" stroke="#333" stroke-width="1.05"/>
<path transform="translate(288.1,450.0) rotate(-10)" d="M1.0,-3.9 A1.8,3.9 0 0 0 1.0,3.9" fill="none" stroke="#3a3a3a" stroke-width="0.85"/>
<ellipse cx="300.3" cy="453.8" rx="3.2" ry="5.2" transform="rotate(-10.0 300.3 453.8)" fill="#b1b3b6" stroke="#333" stroke-width="1.05"/>
<path transform="translate(300.3,453.8) rotate(-10)" d="M1.0,-3.9 A1.8,3.9 0 0 0 1.0,3.9" fill="none" stroke="#3a3a3a" stroke-width="0.85"/>
<ellipse cx="308.8" cy="464.0" rx="3.2" ry="5.2" transform="rotate(-10.0 308.8 464.0)" fill="#b1b3b6" stroke="#333" stroke-width="1.05"/>
<path transform="translate(308.8,464.0) rotate(-10)" d="M1.0,-3.9 A1.8,3.9 0 0 0 1.0,3.9" fill="none" stroke="#3a3a3a" stroke-width="0.85"/>
<ellipse cx="319.0" cy="467.8" rx="3.2" ry="5.2" transform="rotate(-10.0 319.0 467.8)" fill="#b1b3b6" stroke="#333" stroke-width="1.05"/>
<path transform="translate(319.0,467.8) rotate(-10)" d="M1.0,-3.9 A1.8,3.9 0 0 0 1.0,3.9" fill="none" stroke="#3a3a3a" stroke-width="0.85"/>
<ellipse cx="294.7" cy="466.0" rx="3.2" ry="5.2" transform="rotate(-10.0 294.7 466.0)" fill="#b1b3b6" stroke="#333" stroke-width="1.05"/>
<path transform="translate(294.7,466.0) rotate(-10)" d="M1.0,-3.9 A1.8,3.9 0 0 0 1.0,3.9" fill="none" stroke="#3a3a3a" stroke-width="0.85"/>
<ellipse cx="302.2" cy="471.6" rx="3.2" ry="5.2" transform="rotate(-10.0 302.2 471.6)" fill="#b1b3b6" stroke="#333" stroke-width="1.05"/>
<path transform="translate(302.2,471.6) rotate(-10)" d="M1.0,-3.9 A1.8,3.9 0 0 0 1.0,3.9" fill="none" stroke="#3a3a3a" stroke-width="0.85"/>
<ellipse cx="288.1" cy="472.5" rx="3.2" ry="5.2" transform="rotate(-10.0 288.1 472.5)" fill="#b1b3b6" stroke="#333" stroke-width="1.05"/>
<path transform="translate(288.1,472.5) rotate(-10)" d="M1.0,-3.9 A1.8,3.9 0 0 0 1.0,3.9" fill="none" stroke="#3a3a3a" stroke-width="0.85"/>
<ellipse cx="315.3" cy="479.0" rx="3.2" ry="5.2" transform="rotate(-10.0 315.3 479.0)" fill="#b1b3b6" stroke="#333" stroke-width="1.05"/>
<path transform="translate(315.3,479.0) rotate(-10)" d="M1.0,-3.9 A1.8,3.9 0 0 0 1.0,3.9" fill="none" stroke="#3a3a3a" stroke-width="0.85"/>
<ellipse cx="298.4" cy="484.7" rx="3.2" ry="5.2" transform="rotate(-10.0 298.4 484.7)" fill="#b1b3b6" stroke="#333" stroke-width="1.05"/>
<path transform="translate(298.4,484.7) rotate(-10)" d="M1.0,-3.9 A1.8,3.9 0 0 0 1.0,3.9" fill="none" stroke="#3a3a3a" stroke-width="0.85"/>
<ellipse cx="311.6" cy="490.3" rx="3.2" ry="5.2" transform="rotate(-10.0 311.6 490.3)" fill="#b1b3b6" stroke="#333" stroke-width="1.05"/>
<path transform="translate(311.6,490.3) rotate(-10)" d="M1.0,-3.9 A1.8,3.9 0 0 0 1.0,3.9" fill="none" stroke="#3a3a3a" stroke-width="0.85"/>
<ellipse cx="321.0" cy="501.6" rx="3.2" ry="5.2" transform="rotate(-10.0 321.0 501.6)" fill="#b1b3b6" stroke="#333" stroke-width="1.05"/>
<path transform="translate(321.0,501.6) rotate(-10)" d="M1.0,-3.9 A1.8,3.9 0 0 0 1.0,3.9" fill="none" stroke="#3a3a3a" stroke-width="0.85"/>
<polygon points="323.8,481.9 382.8,455.6 383.8,458.0 383.8,515.0 324.7,530.6" fill="#aaadb1" stroke="#4d4d4d" stroke-width="1.0" stroke-linejoin="round" />
<line x1="329.0" y1="479.5" x2="329.5" y2="529.5" stroke="#4d4d4d" stroke-width="0.95"/>
<ellipse cx="336.9" cy="485.6" rx="4.0" ry="5.2" transform="rotate(-20.0 336.9 485.6)" fill="#b1b3b6" stroke="#333" stroke-width="1.05"/>
<path transform="translate(336.9,485.6) rotate(-20)" d="M1.2,-3.9 A2.2,3.9 0 0 0 1.2,3.9" fill="none" stroke="#3a3a3a" stroke-width="0.85"/>
<ellipse cx="351.0" cy="481.0" rx="4.0" ry="5.2" transform="rotate(-20.0 351.0 481.0)" fill="#b1b3b6" stroke="#333" stroke-width="1.05"/>
<path transform="translate(351.0,481.0) rotate(-20)" d="M1.2,-3.9 A2.2,3.9 0 0 0 1.2,3.9" fill="none" stroke="#3a3a3a" stroke-width="0.85"/>
<ellipse cx="363.1" cy="475.3" rx="4.0" ry="5.2" transform="rotate(-20.0 363.1 475.3)" fill="#b1b3b6" stroke="#333" stroke-width="1.05"/>
<path transform="translate(363.1,475.3) rotate(-20)" d="M1.2,-3.9 A2.2,3.9 0 0 0 1.2,3.9" fill="none" stroke="#3a3a3a" stroke-width="0.85"/>
<ellipse cx="374.4" cy="470.6" rx="4.0" ry="5.2" transform="rotate(-20.0 374.4 470.6)" fill="#b1b3b6" stroke="#333" stroke-width="1.05"/>
<path transform="translate(374.4,470.6) rotate(-20)" d="M1.2,-3.9 A2.2,3.9 0 0 0 1.2,3.9" fill="none" stroke="#3a3a3a" stroke-width="0.85"/>
<ellipse cx="355.6" cy="496.9" rx="4.0" ry="5.2" transform="rotate(-20.0 355.6 496.9)" fill="#b1b3b6" stroke="#333" stroke-width="1.05"/>
<path transform="translate(355.6,496.9) rotate(-20)" d="M1.2,-3.9 A2.2,3.9 0 0 0 1.2,3.9" fill="none" stroke="#3a3a3a" stroke-width="0.85"/>
<ellipse cx="349.1" cy="513.8" rx="4.0" ry="5.2" transform="rotate(-20.0 349.1 513.8)" fill="#b1b3b6" stroke="#333" stroke-width="1.05"/>
<path transform="translate(349.1,513.8) rotate(-20)" d="M1.2,-3.9 A2.2,3.9 0 0 0 1.2,3.9" fill="none" stroke="#3a3a3a" stroke-width="0.85"/>
<ellipse cx="335.0" cy="522.2" rx="4.0" ry="5.2" transform="rotate(-20.0 335.0 522.2)" fill="#b1b3b6" stroke="#333" stroke-width="1.05"/>
<path transform="translate(335.0,522.2) rotate(-20)" d="M1.2,-3.9 A2.2,3.9 0 0 0 1.2,3.9" fill="none" stroke="#3a3a3a" stroke-width="0.85"/>
<ellipse cx="372.0" cy="492.0" rx="4.0" ry="5.2" transform="rotate(-20.0 372.0 492.0)" fill="#b1b3b6" stroke="#333" stroke-width="1.05"/>
<path transform="translate(372.0,492.0) rotate(-20)" d="M1.2,-3.9 A2.2,3.9 0 0 0 1.2,3.9" fill="none" stroke="#3a3a3a" stroke-width="0.85"/>
<ellipse cx="367.0" cy="508.0" rx="4.0" ry="5.2" transform="rotate(-20.0 367.0 508.0)" fill="#b1b3b6" stroke="#333" stroke-width="1.05"/>
<path transform="translate(367.0,508.0) rotate(-20)" d="M1.2,-3.9 A2.2,3.9 0 0 0 1.2,3.9" fill="none" stroke="#3a3a3a" stroke-width="0.85"/>
<circle cx="334.0" cy="496.9" r="1.3" fill="#aaadb1" stroke="#444" stroke-width="0.6"/>
<circle cx="339.7" cy="494.0" r="1.3" fill="#aaadb1" stroke="#444" stroke-width="0.6"/>
<circle cx="334.0" cy="514.6" r="1.3" fill="#aaadb1" stroke="#444" stroke-width="0.6"/>
<circle cx="339.7" cy="512.0" r="1.3" fill="#aaadb1" stroke="#444" stroke-width="0.6"/>
<polygon points="363.4,492.2 368.0,489.0 454.4,461.2 460.0,462.0 463.8,465.0 463.8,517.5 421.6,545.6 421.6,565.5 416.9,566.5 363.4,542.8" fill="#aaadb1" stroke="#4d4d4d" stroke-width="1.0" stroke-linejoin="round" />
<clipPath id="cg2"><polygon points="371.0,490.0 451.0,464.5 406.0,508.5"/></clipPath>
<g clip-path="url(#cg2)" fill="#bcbec1" stroke="#444" stroke-width="0.85"><circle cx="367.7" cy="463.4" r="2.5"/><circle cx="374.2" cy="461.3" r="2.5"/><circle cx="372.8" cy="468.0" r="2.5"/><circle cx="379.3" cy="465.9" r="2.5"/><circle cx="385.7" cy="463.8" r="2.5"/><circle cx="392.2" cy="461.6" r="2.5"/><circle cx="371.4" cy="474.6" r="2.5"/><circle cx="377.9" cy="472.5" r="2.5"/><circle cx="384.3" cy="470.4" r="2.5"/><circle cx="390.8" cy="468.3" r="2.5"/><circle cx="397.3" cy="466.2" r="2.5"/><circle cx="403.7" cy="464.1" r="2.5"/><circle cx="410.2" cy="462.0" r="2.5"/><circle cx="370.0" cy="481.3" r="2.5"/><circle cx="376.4" cy="479.2" r="2.5"/><circle cx="382.9" cy="477.1" r="2.5"/><circle cx="389.4" cy="475.0" r="2.5"/><circle cx="395.8" cy="472.9" r="2.5"/><circle cx="402.3" cy="470.7" r="2.5"/><circle cx="408.8" cy="468.6" r="2.5"/><circle cx="415.2" cy="466.5" r="2.5"/><circle cx="421.7" cy="464.4" r="2.5"/><circle cx="428.2" cy="462.3" r="2.5"/><circle cx="368.6" cy="487.9" r="2.5"/><circle cx="375.0" cy="485.8" r="2.5"/><circle cx="381.5" cy="483.7" r="2.5"/><circle cx="388.0" cy="481.6" r="2.5"/><circle cx="394.4" cy="479.5" r="2.5"/><circle cx="400.9" cy="477.4" r="2.5"/><circle cx="407.4" cy="475.3" r="2.5"/><circle cx="413.8" cy="473.2" r="2.5"/><circle cx="420.3" cy="471.1" r="2.5"/><circle cx="426.8" cy="469.0" r="2.5"/><circle cx="433.2" cy="466.9" r="2.5"/><circle cx="439.7" cy="464.8" r="2.5"/><circle cx="446.2" cy="462.7" r="2.5"/><circle cx="452.6" cy="460.6" r="2.5"/><circle cx="367.1" cy="494.6" r="2.5"/><circle cx="373.6" cy="492.5" r="2.5"/><circle cx="380.1" cy="490.4" r="2.5"/><circle cx="386.5" cy="488.3" r="2.5"/><circle cx="393.0" cy="486.2" r="2.5"/><circle cx="399.5" cy="484.1" r="2.5"/><circle cx="405.9" cy="482.0" r="2.5"/><circle cx="412.4" cy="479.8" r="2.5"/><circle cx="418.9" cy="477.7" r="2.5"/><circle cx="425.3" cy="475.6" r="2.5"/><circle cx="431.8" cy="473.5" r="2.5"/><circle cx="438.3" cy="471.4" r="2.5"/><circle cx="444.7" cy="469.3" r="2.5"/><circle cx="451.2" cy="467.2" r="2.5"/><circle cx="372.2" cy="499.1" r="2.5"/><circle cx="378.7" cy="497.0" r="2.5"/><circle cx="385.1" cy="494.9" r="2.5"/><circle cx="391.6" cy="492.8" r="2.5"/><circle cx="398.1" cy="490.7" r="2.5"/><circle cx="404.5" cy="488.6" r="2.5"/><circle cx="411.0" cy="486.5" r="2.5"/><circle cx="417.5" cy="484.4" r="2.5"/><circle cx="423.9" cy="482.3" r="2.5"/><circle cx="430.4" cy="480.2" r="2.5"/><circle cx="436.9" cy="478.1" r="2.5"/><circle cx="443.3" cy="476.0" r="2.5"/><circle cx="449.8" cy="473.9" r="2.5"/><circle cx="370.8" cy="505.8" r="2.5"/><circle cx="377.3" cy="503.7" r="2.5"/><circle cx="383.7" cy="501.6" r="2.5"/><circle cx="390.2" cy="499.5" r="2.5"/><circle cx="396.7" cy="497.4" r="2.5"/><circle cx="403.1" cy="495.3" r="2.5"/><circle cx="409.6" cy="493.2" r="2.5"/><circle cx="416.1" cy="491.0" r="2.5"/><circle cx="422.5" cy="488.9" r="2.5"/><circle cx="429.0" cy="486.8" r="2.5"/><circle cx="435.5" cy="484.7" r="2.5"/><circle cx="441.9" cy="482.6" r="2.5"/><circle cx="448.4" cy="480.5" r="2.5"/><circle cx="454.9" cy="478.4" r="2.5"/><circle cx="369.4" cy="512.4" r="2.5"/><circle cx="375.8" cy="510.3" r="2.5"/><circle cx="382.3" cy="508.2" r="2.5"/><circle cx="388.8" cy="506.1" r="2.5"/><circle cx="395.2" cy="504.0" r="2.5"/><circle cx="401.7" cy="501.9" r="2.5"/><circle cx="408.2" cy="499.8" r="2.5"/><circle cx="414.6" cy="497.7" r="2.5"/><circle cx="421.1" cy="495.6" r="2.5"/><circle cx="427.6" cy="493.5" r="2.5"/><circle cx="434.0" cy="491.4" r="2.5"/><circle cx="440.5" cy="489.3" r="2.5"/><circle cx="447.0" cy="487.2" r="2.5"/><circle cx="453.4" cy="485.1" r="2.5"/><circle cx="393.8" cy="510.7" r="2.5"/><circle cx="400.3" cy="508.6" r="2.5"/><circle cx="406.8" cy="506.5" r="2.5"/><circle cx="413.2" cy="504.4" r="2.5"/><circle cx="419.7" cy="502.3" r="2.5"/><circle cx="426.2" cy="500.1" r="2.5"/><circle cx="432.6" cy="498.0" r="2.5"/><circle cx="439.1" cy="495.9" r="2.5"/><circle cx="445.6" cy="493.8" r="2.5"/><circle cx="452.0" cy="491.7" r="2.5"/><circle cx="411.8" cy="511.0" r="2.5"/><circle cx="418.3" cy="508.9" r="2.5"/><circle cx="424.7" cy="506.8" r="2.5"/><circle cx="431.2" cy="504.7" r="2.5"/><circle cx="437.7" cy="502.6" r="2.5"/><circle cx="444.1" cy="500.5" r="2.5"/><circle cx="450.6" cy="498.4" r="2.5"/><circle cx="429.8" cy="511.4" r="2.5"/><circle cx="436.3" cy="509.2" r="2.5"/><circle cx="442.7" cy="507.1" r="2.5"/><circle cx="449.2" cy="505.0" r="2.5"/><circle cx="447.8" cy="511.7" r="2.5"/><circle cx="454.3" cy="509.6" r="2.5"/></g>
<line x1="365.3" y1="490.3" x2="405.6" y2="510.0" stroke="#4d4d4d" stroke-width="0.95"/>
<line x1="405.6" y1="510.0" x2="460.0" y2="463.0" stroke="#4d4d4d" stroke-width="0.95"/>
<line x1="408.5" y1="511.5" x2="462.0" y2="466.0" stroke="#4d4d4d" stroke-width="0.8"/>
<ellipse cx="425.3" cy="502.5" rx="3.0" ry="5.0" transform="rotate(-5.0 425.3 502.5)" fill="#b1b3b6" stroke="#333" stroke-width="1.05"/>
<path transform="translate(425.3,502.5) rotate(-5)" d="M0.9,-3.8 A1.7,3.8 0 0 0 0.9,3.8" fill="none" stroke="#3a3a3a" stroke-width="0.85"/>
<ellipse cx="437.5" cy="497.8" rx="3.0" ry="5.0" transform="rotate(-5.0 437.5 497.8)" fill="#b1b3b6" stroke="#333" stroke-width="1.05"/>
<path transform="translate(437.5,497.8) rotate(-5)" d="M0.9,-3.8 A1.7,3.8 0 0 0 0.9,3.8" fill="none" stroke="#3a3a3a" stroke-width="0.85"/>
<ellipse cx="445.9" cy="487.5" rx="3.0" ry="5.0" transform="rotate(-5.0 445.9 487.5)" fill="#b1b3b6" stroke="#333" stroke-width="1.05"/>
<path transform="translate(445.9,487.5) rotate(-5)" d="M0.9,-3.8 A1.7,3.8 0 0 0 0.9,3.8" fill="none" stroke="#3a3a3a" stroke-width="0.85"/>
<ellipse cx="456.2" cy="484.7" rx="3.0" ry="5.0" transform="rotate(-5.0 456.2 484.7)" fill="#b1b3b6" stroke="#333" stroke-width="1.05"/>
<path transform="translate(456.2,484.7) rotate(-5)" d="M0.9,-3.8 A1.7,3.8 0 0 0 0.9,3.8" fill="none" stroke="#3a3a3a" stroke-width="0.85"/>
<ellipse cx="431.0" cy="513.8" rx="3.0" ry="5.0" transform="rotate(-5.0 431.0 513.8)" fill="#b1b3b6" stroke="#333" stroke-width="1.05"/>
<path transform="translate(431.0,513.8) rotate(-5)" d="M0.9,-3.8 A1.7,3.8 0 0 0 0.9,3.8" fill="none" stroke="#3a3a3a" stroke-width="0.85"/>
<ellipse cx="443.1" cy="506.2" rx="3.0" ry="5.0" transform="rotate(-5.0 443.1 506.2)" fill="#b1b3b6" stroke="#333" stroke-width="1.05"/>
<path transform="translate(443.1,506.2) rotate(-5)" d="M0.9,-3.8 A1.7,3.8 0 0 0 0.9,3.8" fill="none" stroke="#3a3a3a" stroke-width="0.85"/>
<ellipse cx="450.6" cy="499.7" rx="3.0" ry="5.0" transform="rotate(-5.0 450.6 499.7)" fill="#b1b3b6" stroke="#333" stroke-width="1.05"/>
<path transform="translate(450.6,499.7) rotate(-5)" d="M0.9,-3.8 A1.7,3.8 0 0 0 0.9,3.8" fill="none" stroke="#3a3a3a" stroke-width="0.85"/>
<ellipse cx="457.2" cy="506.2" rx="3.0" ry="5.0" transform="rotate(-5.0 457.2 506.2)" fill="#b1b3b6" stroke="#333" stroke-width="1.05"/>
<path transform="translate(457.2,506.2) rotate(-5)" d="M0.9,-3.8 A1.7,3.8 0 0 0 0.9,3.8" fill="none" stroke="#3a3a3a" stroke-width="0.85"/>
<ellipse cx="433.8" cy="526.0" rx="3.0" ry="5.0" transform="rotate(-5.0 433.8 526.0)" fill="#b1b3b6" stroke="#333" stroke-width="1.05"/>
<path transform="translate(433.8,526.0) rotate(-5)" d="M0.9,-3.8 A1.7,3.8 0 0 0 0.9,3.8" fill="none" stroke="#3a3a3a" stroke-width="0.85"/>
<ellipse cx="446.9" cy="520.3" rx="3.0" ry="5.0" transform="rotate(-5.0 446.9 520.3)" fill="#b1b3b6" stroke="#333" stroke-width="1.05"/>
<path transform="translate(446.9,520.3) rotate(-5)" d="M0.9,-3.8 A1.7,3.8 0 0 0 0.9,3.8" fill="none" stroke="#3a3a3a" stroke-width="0.85"/>
<ellipse cx="423.4" cy="535.3" rx="3.0" ry="5.0" transform="rotate(-5.0 423.4 535.3)" fill="#b1b3b6" stroke="#333" stroke-width="1.05"/>
<path transform="translate(423.4,535.3) rotate(-5)" d="M0.9,-3.8 A1.7,3.8 0 0 0 0.9,3.8" fill="none" stroke="#3a3a3a" stroke-width="0.85"/>
<polygon points="363.4,492.2 419.7,513.8 422.5,514.7 421.6,565.5 416.9,566.5 363.4,542.8" fill="#aaadb1" stroke="#4d4d4d" stroke-width="1.0" stroke-linejoin="round" />
<line x1="418.0" y1="514.0" x2="417.5" y2="566.0" stroke="#4d4d4d" stroke-width="0.95"/>
<ellipse cx="371.9" cy="503.4" rx="4.2" ry="5.2" transform="rotate(-20.0 371.9 503.4)" fill="#b1b3b6" stroke="#333" stroke-width="1.05"/>
<path transform="translate(371.9,503.4) rotate(-20)" d="M1.3,-3.9 A2.3,3.9 0 0 0 1.3,3.9" fill="none" stroke="#3a3a3a" stroke-width="0.85"/>
<ellipse cx="383.1" cy="508.1" rx="4.2" ry="5.2" transform="rotate(-20.0 383.1 508.1)" fill="#b1b3b6" stroke="#333" stroke-width="1.05"/>
<path transform="translate(383.1,508.1) rotate(-20)" d="M1.3,-3.9 A2.3,3.9 0 0 0 1.3,3.9" fill="none" stroke="#3a3a3a" stroke-width="0.85"/>
<ellipse cx="394.4" cy="514.7" rx="4.2" ry="5.2" transform="rotate(-20.0 394.4 514.7)" fill="#b1b3b6" stroke="#333" stroke-width="1.05"/>
<path transform="translate(394.4,514.7) rotate(-20)" d="M1.3,-3.9 A2.3,3.9 0 0 0 1.3,3.9" fill="none" stroke="#3a3a3a" stroke-width="0.85"/>
<ellipse cx="408.4" cy="519.4" rx="4.2" ry="5.2" transform="rotate(-20.0 408.4 519.4)" fill="#b1b3b6" stroke="#333" stroke-width="1.05"/>
<path transform="translate(408.4,519.4) rotate(-20)" d="M1.3,-3.9 A2.3,3.9 0 0 0 1.3,3.9" fill="none" stroke="#3a3a3a" stroke-width="0.85"/>
<ellipse cx="377.5" cy="524.0" rx="4.2" ry="5.2" transform="rotate(-20.0 377.5 524.0)" fill="#b1b3b6" stroke="#333" stroke-width="1.05"/>
<path transform="translate(377.5,524.0) rotate(-20)" d="M1.3,-3.9 A2.3,3.9 0 0 0 1.3,3.9" fill="none" stroke="#3a3a3a" stroke-width="0.85"/>
<ellipse cx="389.7" cy="527.8" rx="4.2" ry="5.2" transform="rotate(-20.0 389.7 527.8)" fill="#b1b3b6" stroke="#333" stroke-width="1.05"/>
<path transform="translate(389.7,527.8) rotate(-20)" d="M1.3,-3.9 A2.3,3.9 0 0 0 1.3,3.9" fill="none" stroke="#3a3a3a" stroke-width="0.85"/>
<ellipse cx="371.9" cy="538.1" rx="4.2" ry="5.2" transform="rotate(-20.0 371.9 538.1)" fill="#b1b3b6" stroke="#333" stroke-width="1.05"/>
<path transform="translate(371.9,538.1) rotate(-20)" d="M1.3,-3.9 A2.3,3.9 0 0 0 1.3,3.9" fill="none" stroke="#3a3a3a" stroke-width="0.85"/>
<ellipse cx="383.1" cy="542.8" rx="4.2" ry="5.2" transform="rotate(-20.0 383.1 542.8)" fill="#b1b3b6" stroke="#333" stroke-width="1.05"/>
<path transform="translate(383.1,542.8) rotate(-20)" d="M1.3,-3.9 A2.3,3.9 0 0 0 1.3,3.9" fill="none" stroke="#3a3a3a" stroke-width="0.85"/>
<ellipse cx="395.3" cy="548.4" rx="4.2" ry="5.2" transform="rotate(-20.0 395.3 548.4)" fill="#b1b3b6" stroke="#333" stroke-width="1.05"/>
<path transform="translate(395.3,548.4) rotate(-20)" d="M1.3,-3.9 A2.3,3.9 0 0 0 1.3,3.9" fill="none" stroke="#3a3a3a" stroke-width="0.85"/>
<ellipse cx="408.4" cy="556.9" rx="4.2" ry="5.2" transform="rotate(-20.0 408.4 556.9)" fill="#b1b3b6" stroke="#333" stroke-width="1.05"/>
<path transform="translate(408.4,556.9) rotate(-20)" d="M1.3,-3.9 A2.3,3.9 0 0 0 1.3,3.9" fill="none" stroke="#3a3a3a" stroke-width="0.85"/>
<circle cx="367.2" cy="520.3" r="1.3" fill="#aaadb1" stroke="#444" stroke-width="0.6"/>
<circle cx="405.6" cy="527.8" r="1.3" fill="#aaadb1" stroke="#444" stroke-width="0.6"/>
<circle cx="412.0" cy="530.6" r="1.3" fill="#aaadb1" stroke="#444" stroke-width="0.6"/>
<circle cx="405.6" cy="546.6" r="1.3" fill="#aaadb1" stroke="#444" stroke-width="0.6"/>
<circle cx="412.0" cy="548.4" r="1.3" fill="#aaadb1" stroke="#444" stroke-width="0.6"/>
<polygon points="518.4,437.5 523.0,435.0 618.8,462.5 620.6,465.0 620.6,525.0 551.2,541.2 551.2,518.8 518.4,489.7" fill="#aaadb1" stroke="#4d4d4d" stroke-width="1.0" stroke-linejoin="round" />
<clipPath id="cg3"><polygon points="528.0,438.0 611.0,464.0 568.0,484.5"/></clipPath>
<g clip-path="url(#cg3)" fill="#bcbec1" stroke="#444" stroke-width="0.85"><circle cx="605.4" cy="434.8" r="2.5"/><circle cx="611.9" cy="436.7" r="2.5"/><circle cx="587.4" cy="435.8" r="2.5"/><circle cx="594.0" cy="437.6" r="2.5"/><circle cx="600.5" cy="439.5" r="2.5"/><circle cx="607.0" cy="441.4" r="2.5"/><circle cx="613.6" cy="443.3" r="2.5"/><circle cx="562.9" cy="434.9" r="2.5"/><circle cx="569.5" cy="436.7" r="2.5"/><circle cx="576.0" cy="438.6" r="2.5"/><circle cx="582.5" cy="440.5" r="2.5"/><circle cx="589.1" cy="442.4" r="2.5"/><circle cx="595.6" cy="444.2" r="2.5"/><circle cx="602.1" cy="446.1" r="2.5"/><circle cx="608.7" cy="448.0" r="2.5"/><circle cx="545.0" cy="435.8" r="2.5"/><circle cx="551.5" cy="437.7" r="2.5"/><circle cx="558.0" cy="439.6" r="2.5"/><circle cx="564.6" cy="441.5" r="2.5"/><circle cx="571.1" cy="443.3" r="2.5"/><circle cx="577.6" cy="445.2" r="2.5"/><circle cx="584.2" cy="447.1" r="2.5"/><circle cx="590.7" cy="449.0" r="2.5"/><circle cx="597.2" cy="450.8" r="2.5"/><circle cx="603.8" cy="452.7" r="2.5"/><circle cx="610.3" cy="454.6" r="2.5"/><circle cx="527.0" cy="436.8" r="2.5"/><circle cx="533.5" cy="438.7" r="2.5"/><circle cx="540.1" cy="440.6" r="2.5"/><circle cx="546.6" cy="442.4" r="2.5"/><circle cx="553.1" cy="444.3" r="2.5"/><circle cx="559.7" cy="446.2" r="2.5"/><circle cx="566.2" cy="448.1" r="2.5"/><circle cx="572.7" cy="449.9" r="2.5"/><circle cx="579.3" cy="451.8" r="2.5"/><circle cx="585.8" cy="453.7" r="2.5"/><circle cx="592.4" cy="455.6" r="2.5"/><circle cx="598.9" cy="457.4" r="2.5"/><circle cx="605.4" cy="459.3" r="2.5"/><circle cx="612.0" cy="461.2" r="2.5"/><circle cx="528.6" cy="443.4" r="2.5"/><circle cx="535.2" cy="445.3" r="2.5"/><circle cx="541.7" cy="447.2" r="2.5"/><circle cx="548.2" cy="449.0" r="2.5"/><circle cx="554.8" cy="450.9" r="2.5"/><circle cx="561.3" cy="452.8" r="2.5"/><circle cx="567.9" cy="454.7" r="2.5"/><circle cx="574.4" cy="456.5" r="2.5"/><circle cx="580.9" cy="458.4" r="2.5"/><circle cx="587.5" cy="460.3" r="2.5"/><circle cx="594.0" cy="462.1" r="2.5"/><circle cx="600.5" cy="464.0" r="2.5"/><circle cx="607.1" cy="465.9" r="2.5"/><circle cx="613.6" cy="467.8" r="2.5"/><circle cx="530.3" cy="450.0" r="2.5"/><circle cx="536.8" cy="451.9" r="2.5"/><circle cx="543.4" cy="453.8" r="2.5"/><circle cx="549.9" cy="455.6" r="2.5"/><circle cx="556.4" cy="457.5" r="2.5"/><circle cx="563.0" cy="459.4" r="2.5"/><circle cx="569.5" cy="461.2" r="2.5"/><circle cx="576.0" cy="463.1" r="2.5"/><circle cx="582.6" cy="465.0" r="2.5"/><circle cx="589.1" cy="466.9" r="2.5"/><circle cx="595.6" cy="468.7" r="2.5"/><circle cx="602.2" cy="470.6" r="2.5"/><circle cx="608.7" cy="472.5" r="2.5"/><circle cx="525.4" cy="454.7" r="2.5"/><circle cx="531.9" cy="456.6" r="2.5"/><circle cx="538.5" cy="458.5" r="2.5"/><circle cx="545.0" cy="460.4" r="2.5"/><circle cx="551.5" cy="462.2" r="2.5"/><circle cx="558.1" cy="464.1" r="2.5"/><circle cx="564.6" cy="466.0" r="2.5"/><circle cx="571.1" cy="467.8" r="2.5"/><circle cx="577.7" cy="469.7" r="2.5"/><circle cx="584.2" cy="471.6" r="2.5"/><circle cx="590.8" cy="473.5" r="2.5"/><circle cx="597.3" cy="475.3" r="2.5"/><circle cx="603.8" cy="477.2" r="2.5"/><circle cx="610.4" cy="479.1" r="2.5"/><circle cx="527.0" cy="461.3" r="2.5"/><circle cx="533.6" cy="463.2" r="2.5"/><circle cx="540.1" cy="465.1" r="2.5"/><circle cx="546.6" cy="466.9" r="2.5"/><circle cx="553.2" cy="468.8" r="2.5"/><circle cx="559.7" cy="470.7" r="2.5"/><circle cx="566.3" cy="472.6" r="2.5"/><circle cx="572.8" cy="474.4" r="2.5"/><circle cx="579.3" cy="476.3" r="2.5"/><circle cx="585.9" cy="478.2" r="2.5"/><circle cx="592.4" cy="480.1" r="2.5"/><circle cx="598.9" cy="481.9" r="2.5"/><circle cx="605.5" cy="483.8" r="2.5"/><circle cx="612.0" cy="485.7" r="2.5"/><circle cx="528.7" cy="467.9" r="2.5"/><circle cx="535.2" cy="469.8" r="2.5"/><circle cx="541.8" cy="471.7" r="2.5"/><circle cx="548.3" cy="473.5" r="2.5"/><circle cx="554.8" cy="475.4" r="2.5"/><circle cx="561.4" cy="477.3" r="2.5"/><circle cx="567.9" cy="479.2" r="2.5"/><circle cx="574.4" cy="481.0" r="2.5"/><circle cx="581.0" cy="482.9" r="2.5"/><circle cx="587.5" cy="484.8" r="2.5"/><circle cx="594.0" cy="486.7" r="2.5"/><circle cx="530.3" cy="474.5" r="2.5"/><circle cx="536.9" cy="476.4" r="2.5"/><circle cx="543.4" cy="478.3" r="2.5"/><circle cx="549.9" cy="480.1" r="2.5"/><circle cx="556.5" cy="482.0" r="2.5"/><circle cx="563.0" cy="483.9" r="2.5"/><circle cx="569.5" cy="485.8" r="2.5"/><circle cx="576.1" cy="487.6" r="2.5"/><circle cx="525.4" cy="479.2" r="2.5"/><circle cx="532.0" cy="481.1" r="2.5"/><circle cx="538.5" cy="483.0" r="2.5"/><circle cx="545.0" cy="484.9" r="2.5"/><circle cx="551.6" cy="486.7" r="2.5"/><circle cx="527.1" cy="485.8" r="2.5"/><circle cx="533.6" cy="487.7" r="2.5"/></g>
<line x1="519.5" y1="437.5" x2="568.1" y2="486.9" stroke="#4d4d4d" stroke-width="0.95"/>
<line x1="523.5" y1="436.0" x2="570.5" y2="484.8" stroke="#4d4d4d" stroke-width="0.8"/>
<line x1="568.1" y1="486.9" x2="618.8" y2="462.5" stroke="#4d4d4d" stroke-width="0.95"/>
<ellipse cx="523.1" cy="457.8" rx="2.4" ry="5.0" transform="rotate(-5.0 523.1 457.8)" fill="#b1b3b6" stroke="#333" stroke-width="1.05"/>
<path transform="translate(523.1,457.8) rotate(-5)" d="M0.7,-3.8 A1.3,3.8 0 0 0 0.7,3.8" fill="none" stroke="#3a3a3a" stroke-width="0.85"/>
<ellipse cx="529.7" cy="459.7" rx="2.4" ry="5.0" transform="rotate(-5.0 529.7 459.7)" fill="#b1b3b6" stroke="#333" stroke-width="1.05"/>
<path transform="translate(529.7,459.7) rotate(-5)" d="M0.7,-3.8 A1.3,3.8 0 0 0 0.7,3.8" fill="none" stroke="#3a3a3a" stroke-width="0.85"/>
<ellipse cx="537.2" cy="465.3" rx="2.4" ry="5.0" transform="rotate(-5.0 537.2 465.3)" fill="#b1b3b6" stroke="#333" stroke-width="1.05"/>
<path transform="translate(537.2,465.3) rotate(-5)" d="M0.7,-3.8 A1.3,3.8 0 0 0 0.7,3.8" fill="none" stroke="#3a3a3a" stroke-width="0.85"/>
<ellipse cx="528.8" cy="473.8" rx="2.4" ry="5.0" transform="rotate(-5.0 528.8 473.8)" fill="#b1b3b6" stroke="#333" stroke-width="1.05"/>
<path transform="translate(528.8,473.8) rotate(-5)" d="M0.7,-3.8 A1.3,3.8 0 0 0 0.7,3.8" fill="none" stroke="#3a3a3a" stroke-width="0.85"/>
<ellipse cx="522.2" cy="479.4" rx="2.4" ry="5.0" transform="rotate(-5.0 522.2 479.4)" fill="#b1b3b6" stroke="#333" stroke-width="1.05"/>
<path transform="translate(522.2,479.4) rotate(-5)" d="M0.7,-3.8 A1.3,3.8 0 0 0 0.7,3.8" fill="none" stroke="#3a3a3a" stroke-width="0.85"/>
<ellipse cx="543.8" cy="475.6" rx="2.4" ry="5.0" transform="rotate(-5.0 543.8 475.6)" fill="#b1b3b6" stroke="#333" stroke-width="1.05"/>
<path transform="translate(543.8,475.6) rotate(-5)" d="M0.7,-3.8 A1.3,3.8 0 0 0 0.7,3.8" fill="none" stroke="#3a3a3a" stroke-width="0.85"/>
<ellipse cx="552.2" cy="479.4" rx="2.4" ry="5.0" transform="rotate(-5.0 552.2 479.4)" fill="#b1b3b6" stroke="#333" stroke-width="1.05"/>
<path transform="translate(552.2,479.4) rotate(-5)" d="M0.7,-3.8 A1.3,3.8 0 0 0 0.7,3.8" fill="none" stroke="#3a3a3a" stroke-width="0.85"/>
<ellipse cx="540.0" cy="485.0" rx="2.4" ry="5.0" transform="rotate(-5.0 540.0 485.0)" fill="#b1b3b6" stroke="#333" stroke-width="1.05"/>
<path transform="translate(540.0,485.0) rotate(-5)" d="M0.7,-3.8 A1.3,3.8 0 0 0 0.7,3.8" fill="none" stroke="#3a3a3a" stroke-width="0.85"/>
<ellipse cx="528.8" cy="490.6" rx="2.4" ry="5.0" transform="rotate(-5.0 528.8 490.6)" fill="#b1b3b6" stroke="#333" stroke-width="1.05"/>
<path transform="translate(528.8,490.6) rotate(-5)" d="M0.7,-3.8 A1.3,3.8 0 0 0 0.7,3.8" fill="none" stroke="#3a3a3a" stroke-width="0.85"/>
<ellipse cx="535.3" cy="497.2" rx="2.4" ry="5.0" transform="rotate(-5.0 535.3 497.2)" fill="#b1b3b6" stroke="#333" stroke-width="1.05"/>
<path transform="translate(535.3,497.2) rotate(-5)" d="M0.7,-3.8 A1.3,3.8 0 0 0 0.7,3.8" fill="none" stroke="#3a3a3a" stroke-width="0.85"/>
<ellipse cx="545.6" cy="491.6" rx="2.4" ry="5.0" transform="rotate(-5.0 545.6 491.6)" fill="#b1b3b6" stroke="#333" stroke-width="1.05"/>
<path transform="translate(545.6,491.6) rotate(-5)" d="M0.7,-3.8 A1.3,3.8 0 0 0 0.7,3.8" fill="none" stroke="#3a3a3a" stroke-width="0.85"/>
<ellipse cx="546.6" cy="502.8" rx="2.4" ry="5.0" transform="rotate(-5.0 546.6 502.8)" fill="#b1b3b6" stroke="#333" stroke-width="1.05"/>
<path transform="translate(546.6,502.8) rotate(-5)" d="M0.7,-3.8 A1.3,3.8 0 0 0 0.7,3.8" fill="none" stroke="#3a3a3a" stroke-width="0.85"/>
<polygon points="551.2,492.5 619.7,463.4 620.6,465.0 620.6,525.0 551.2,541.2" fill="#aaadb1" stroke="#4d4d4d" stroke-width="1.0" stroke-linejoin="round" />
<line x1="555.5" y1="491.0" x2="555.5" y2="540.5" stroke="#4d4d4d" stroke-width="0.95"/>
<ellipse cx="563.4" cy="498.1" rx="4.0" ry="5.0" transform="rotate(-20.0 563.4 498.1)" fill="#b1b3b6" stroke="#333" stroke-width="1.05"/>
<path transform="translate(563.4,498.1) rotate(-20)" d="M1.2,-3.8 A2.2,3.8 0 0 0 1.2,3.8" fill="none" stroke="#3a3a3a" stroke-width="0.85"/>
<ellipse cx="577.5" cy="493.4" rx="4.0" ry="5.0" transform="rotate(-20.0 577.5 493.4)" fill="#b1b3b6" stroke="#333" stroke-width="1.05"/>
<path transform="translate(577.5,493.4) rotate(-20)" d="M1.2,-3.8 A2.2,3.8 0 0 0 1.2,3.8" fill="none" stroke="#3a3a3a" stroke-width="0.85"/>
<ellipse cx="588.8" cy="487.8" rx="4.0" ry="5.0" transform="rotate(-20.0 588.8 487.8)" fill="#b1b3b6" stroke="#333" stroke-width="1.05"/>
<path transform="translate(588.8,487.8) rotate(-20)" d="M1.2,-3.8 A2.2,3.8 0 0 0 1.2,3.8" fill="none" stroke="#3a3a3a" stroke-width="0.85"/>
<ellipse cx="601.9" cy="482.2" rx="4.0" ry="5.0" transform="rotate(-20.0 601.9 482.2)" fill="#b1b3b6" stroke="#333" stroke-width="1.05"/>
<path transform="translate(601.9,482.2) rotate(-20)" d="M1.2,-3.8 A2.2,3.8 0 0 0 1.2,3.8" fill="none" stroke="#3a3a3a" stroke-width="0.85"/>
<ellipse cx="613.1" cy="477.5" rx="4.0" ry="5.0" transform="rotate(-20.0 613.1 477.5)" fill="#b1b3b6" stroke="#333" stroke-width="1.05"/>
<path transform="translate(613.1,477.5) rotate(-20)" d="M1.2,-3.8 A2.2,3.8 0 0 0 1.2,3.8" fill="none" stroke="#3a3a3a" stroke-width="0.85"/>
<ellipse cx="584.1" cy="507.5" rx="4.0" ry="5.0" transform="rotate(-20.0 584.1 507.5)" fill="#b1b3b6" stroke="#333" stroke-width="1.05"/>
<path transform="translate(584.1,507.5) rotate(-20)" d="M1.2,-3.8 A2.2,3.8 0 0 0 1.2,3.8" fill="none" stroke="#3a3a3a" stroke-width="0.85"/>
<ellipse cx="595.3" cy="501.9" rx="4.0" ry="5.0" transform="rotate(-20.0 595.3 501.9)" fill="#b1b3b6" stroke="#333" stroke-width="1.05"/>
<path transform="translate(595.3,501.9) rotate(-20)" d="M1.2,-3.8 A2.2,3.8 0 0 0 1.2,3.8" fill="none" stroke="#3a3a3a" stroke-width="0.85"/>
<ellipse cx="578.4" cy="526.2" rx="4.0" ry="5.0" transform="rotate(-20.0 578.4 526.2)" fill="#b1b3b6" stroke="#333" stroke-width="1.05"/>
<path transform="translate(578.4,526.2) rotate(-20)" d="M1.2,-3.8 A2.2,3.8 0 0 0 1.2,3.8" fill="none" stroke="#3a3a3a" stroke-width="0.85"/>
<ellipse cx="590.6" cy="520.6" rx="4.0" ry="5.0" transform="rotate(-20.0 590.6 520.6)" fill="#b1b3b6" stroke="#333" stroke-width="1.05"/>
<path transform="translate(590.6,520.6) rotate(-20)" d="M1.2,-3.8 A2.2,3.8 0 0 0 1.2,3.8" fill="none" stroke="#3a3a3a" stroke-width="0.85"/>
<ellipse cx="563.4" cy="533.8" rx="4.0" ry="5.0" transform="rotate(-20.0 563.4 533.8)" fill="#b1b3b6" stroke="#333" stroke-width="1.05"/>
<path transform="translate(563.4,533.8) rotate(-20)" d="M1.2,-3.8 A2.2,3.8 0 0 0 1.2,3.8" fill="none" stroke="#3a3a3a" stroke-width="0.85"/>
<ellipse cx="606.0" cy="497.0" rx="4.0" ry="5.0" transform="rotate(-20.0 606.0 497.0)" fill="#b1b3b6" stroke="#333" stroke-width="1.05"/>
<path transform="translate(606.0,497.0) rotate(-20)" d="M1.2,-3.8 A2.2,3.8 0 0 0 1.2,3.8" fill="none" stroke="#3a3a3a" stroke-width="0.85"/>
<ellipse cx="607.0" cy="515.0" rx="4.0" ry="5.0" transform="rotate(-20.0 607.0 515.0)" fill="#b1b3b6" stroke="#333" stroke-width="1.05"/>
<path transform="translate(607.0,515.0) rotate(-20)" d="M1.2,-3.8 A2.2,3.8 0 0 0 1.2,3.8" fill="none" stroke="#3a3a3a" stroke-width="0.85"/>
<circle cx="559.7" cy="508.4" r="1.3" fill="#aaadb1" stroke="#444" stroke-width="0.6"/>
<circle cx="566.2" cy="505.6" r="1.3" fill="#aaadb1" stroke="#444" stroke-width="0.6"/>
<circle cx="559.7" cy="527.0" r="1.3" fill="#aaadb1" stroke="#444" stroke-width="0.6"/>
<circle cx="566.2" cy="524.4" r="1.3" fill="#aaadb1" stroke="#444" stroke-width="0.6"/>
<polygon points="601.6,495.3 606.0,492.0 696.2,463.4 700.0,463.5 703.8,466.0 703.8,518.8 671.9,548.8 671.0,569.4 667.2,570.3 601.6,545.0" fill="#aaadb1" stroke="#4d4d4d" stroke-width="1.0" stroke-linejoin="round" />
<clipPath id="cg4"><polygon points="611.0,493.0 693.0,467.0 653.0,511.5"/></clipPath>
<g clip-path="url(#cg4)" fill="#bcbec1" stroke="#444" stroke-width="0.85"><circle cx="608.7" cy="466.2" r="2.5"/><circle cx="615.2" cy="464.1" r="2.5"/><circle cx="607.3" cy="472.8" r="2.5"/><circle cx="613.8" cy="470.7" r="2.5"/><circle cx="620.3" cy="468.6" r="2.5"/><circle cx="626.7" cy="466.5" r="2.5"/><circle cx="633.2" cy="464.4" r="2.5"/><circle cx="612.4" cy="477.4" r="2.5"/><circle cx="618.9" cy="475.3" r="2.5"/><circle cx="625.3" cy="473.2" r="2.5"/><circle cx="631.8" cy="471.1" r="2.5"/><circle cx="638.3" cy="468.9" r="2.5"/><circle cx="644.7" cy="466.8" r="2.5"/><circle cx="651.2" cy="464.7" r="2.5"/><circle cx="611.0" cy="484.0" r="2.5"/><circle cx="617.4" cy="481.9" r="2.5"/><circle cx="623.9" cy="479.8" r="2.5"/><circle cx="630.4" cy="477.7" r="2.5"/><circle cx="636.8" cy="475.6" r="2.5"/><circle cx="643.3" cy="473.5" r="2.5"/><circle cx="649.8" cy="471.4" r="2.5"/><circle cx="656.2" cy="469.3" r="2.5"/><circle cx="662.7" cy="467.2" r="2.5"/><circle cx="669.2" cy="465.1" r="2.5"/><circle cx="609.6" cy="490.7" r="2.5"/><circle cx="616.0" cy="488.6" r="2.5"/><circle cx="622.5" cy="486.5" r="2.5"/><circle cx="629.0" cy="484.4" r="2.5"/><circle cx="635.4" cy="482.3" r="2.5"/><circle cx="641.9" cy="480.2" r="2.5"/><circle cx="648.4" cy="478.0" r="2.5"/><circle cx="654.8" cy="475.9" r="2.5"/><circle cx="661.3" cy="473.8" r="2.5"/><circle cx="667.8" cy="471.7" r="2.5"/><circle cx="674.2" cy="469.6" r="2.5"/><circle cx="680.7" cy="467.5" r="2.5"/><circle cx="687.2" cy="465.4" r="2.5"/><circle cx="693.6" cy="463.3" r="2.5"/><circle cx="608.1" cy="497.3" r="2.5"/><circle cx="614.6" cy="495.2" r="2.5"/><circle cx="621.1" cy="493.1" r="2.5"/><circle cx="627.5" cy="491.0" r="2.5"/><circle cx="634.0" cy="488.9" r="2.5"/><circle cx="640.5" cy="486.8" r="2.5"/><circle cx="646.9" cy="484.7" r="2.5"/><circle cx="653.4" cy="482.6" r="2.5"/><circle cx="659.9" cy="480.5" r="2.5"/><circle cx="666.3" cy="478.4" r="2.5"/><circle cx="672.8" cy="476.3" r="2.5"/><circle cx="679.3" cy="474.2" r="2.5"/><circle cx="685.7" cy="472.1" r="2.5"/><circle cx="692.2" cy="470.0" r="2.5"/><circle cx="613.2" cy="501.9" r="2.5"/><circle cx="619.7" cy="499.8" r="2.5"/><circle cx="626.1" cy="497.7" r="2.5"/><circle cx="632.6" cy="495.6" r="2.5"/><circle cx="639.1" cy="493.5" r="2.5"/><circle cx="645.5" cy="491.4" r="2.5"/><circle cx="652.0" cy="489.2" r="2.5"/><circle cx="658.5" cy="487.1" r="2.5"/><circle cx="664.9" cy="485.0" r="2.5"/><circle cx="671.4" cy="482.9" r="2.5"/><circle cx="677.9" cy="480.8" r="2.5"/><circle cx="684.3" cy="478.7" r="2.5"/><circle cx="690.8" cy="476.6" r="2.5"/><circle cx="611.8" cy="508.5" r="2.5"/><circle cx="618.3" cy="506.4" r="2.5"/><circle cx="624.7" cy="504.3" r="2.5"/><circle cx="631.2" cy="502.2" r="2.5"/><circle cx="637.7" cy="500.1" r="2.5"/><circle cx="644.1" cy="498.0" r="2.5"/><circle cx="650.6" cy="495.9" r="2.5"/><circle cx="657.1" cy="493.8" r="2.5"/><circle cx="663.5" cy="491.7" r="2.5"/><circle cx="670.0" cy="489.6" r="2.5"/><circle cx="676.5" cy="487.5" r="2.5"/><circle cx="682.9" cy="485.4" r="2.5"/><circle cx="689.4" cy="483.3" r="2.5"/><circle cx="695.9" cy="481.2" r="2.5"/><circle cx="610.4" cy="515.2" r="2.5"/><circle cx="616.8" cy="513.1" r="2.5"/><circle cx="623.3" cy="511.0" r="2.5"/><circle cx="629.8" cy="508.9" r="2.5"/><circle cx="636.2" cy="506.8" r="2.5"/><circle cx="642.7" cy="504.7" r="2.5"/><circle cx="649.2" cy="502.6" r="2.5"/><circle cx="655.6" cy="500.5" r="2.5"/><circle cx="662.1" cy="498.3" r="2.5"/><circle cx="668.6" cy="496.2" r="2.5"/><circle cx="675.0" cy="494.1" r="2.5"/><circle cx="681.5" cy="492.0" r="2.5"/><circle cx="688.0" cy="489.9" r="2.5"/><circle cx="694.4" cy="487.8" r="2.5"/><circle cx="634.8" cy="513.4" r="2.5"/><circle cx="641.3" cy="511.3" r="2.5"/><circle cx="647.8" cy="509.2" r="2.5"/><circle cx="654.2" cy="507.1" r="2.5"/><circle cx="660.7" cy="505.0" r="2.5"/><circle cx="667.2" cy="502.9" r="2.5"/><circle cx="673.6" cy="500.8" r="2.5"/><circle cx="680.1" cy="498.7" r="2.5"/><circle cx="686.6" cy="496.6" r="2.5"/><circle cx="693.0" cy="494.5" r="2.5"/><circle cx="652.8" cy="513.8" r="2.5"/><circle cx="659.3" cy="511.7" r="2.5"/><circle cx="665.7" cy="509.6" r="2.5"/><circle cx="672.2" cy="507.4" r="2.5"/><circle cx="678.7" cy="505.3" r="2.5"/><circle cx="685.1" cy="503.2" r="2.5"/><circle cx="691.6" cy="501.1" r="2.5"/><circle cx="670.8" cy="514.1" r="2.5"/><circle cx="677.3" cy="512.0" r="2.5"/><circle cx="683.7" cy="509.9" r="2.5"/><circle cx="690.2" cy="507.8" r="2.5"/><circle cx="696.7" cy="505.7" r="2.5"/><circle cx="688.8" cy="514.4" r="2.5"/><circle cx="695.3" cy="512.3" r="2.5"/></g>
<line x1="603.4" y1="493.4" x2="653.1" y2="513.1" stroke="#4d4d4d" stroke-width="0.95"/>
<line x1="653.1" y1="513.1" x2="700.0" y2="464.5" stroke="#4d4d4d" stroke-width="0.95"/>
<line x1="656.0" y1="514.5" x2="702.0" y2="467.5" stroke="#4d4d4d" stroke-width="0.8"/>
<ellipse cx="670.0" cy="508.4" rx="2.3" ry="5.0" transform="rotate(-5.0 670.0 508.4)" fill="#b1b3b6" stroke="#333" stroke-width="1.05"/>
<path transform="translate(670.0,508.4) rotate(-5)" d="M0.7,-3.8 A1.3,3.8 0 0 0 0.7,3.8" fill="none" stroke="#3a3a3a" stroke-width="0.85"/>
<ellipse cx="677.5" cy="504.7" rx="2.3" ry="5.0" transform="rotate(-5.0 677.5 504.7)" fill="#b1b3b6" stroke="#333" stroke-width="1.05"/>
<path transform="translate(677.5,504.7) rotate(-5)" d="M0.7,-3.8 A1.3,3.8 0 0 0 0.7,3.8" fill="none" stroke="#3a3a3a" stroke-width="0.85"/>
<ellipse cx="684.0" cy="495.3" rx="2.3" ry="5.0" transform="rotate(-5.0 684.0 495.3)" fill="#b1b3b6" stroke="#333" stroke-width="1.05"/>
<path transform="translate(684.0,495.3) rotate(-5)" d="M0.7,-3.8 A1.3,3.8 0 0 0 0.7,3.8" fill="none" stroke="#3a3a3a" stroke-width="0.85"/>
<ellipse cx="690.6" cy="488.8" rx="2.3" ry="5.0" transform="rotate(-5.0 690.6 488.8)" fill="#b1b3b6" stroke="#333" stroke-width="1.05"/>
<path transform="translate(690.6,488.8) rotate(-5)" d="M0.7,-3.8 A1.3,3.8 0 0 0 0.7,3.8" fill="none" stroke="#3a3a3a" stroke-width="0.85"/>
<ellipse cx="698.1" cy="485.9" rx="2.3" ry="5.0" transform="rotate(-5.0 698.1 485.9)" fill="#b1b3b6" stroke="#333" stroke-width="1.05"/>
<path transform="translate(698.1,485.9) rotate(-5)" d="M0.7,-3.8 A1.3,3.8 0 0 0 0.7,3.8" fill="none" stroke="#3a3a3a" stroke-width="0.85"/>
<ellipse cx="673.8" cy="521.6" rx="2.3" ry="5.0" transform="rotate(-5.0 673.8 521.6)" fill="#b1b3b6" stroke="#333" stroke-width="1.05"/>
<path transform="translate(673.8,521.6) rotate(-5)" d="M0.7,-3.8 A1.3,3.8 0 0 0 0.7,3.8" fill="none" stroke="#3a3a3a" stroke-width="0.85"/>
<ellipse cx="681.2" cy="511.2" rx="2.3" ry="5.0" transform="rotate(-5.0 681.2 511.2)" fill="#b1b3b6" stroke="#333" stroke-width="1.05"/>
<path transform="translate(681.2,511.2) rotate(-5)" d="M0.7,-3.8 A1.3,3.8 0 0 0 0.7,3.8" fill="none" stroke="#3a3a3a" stroke-width="0.85"/>
<ellipse cx="692.5" cy="502.8" rx="2.3" ry="5.0" transform="rotate(-5.0 692.5 502.8)" fill="#b1b3b6" stroke="#333" stroke-width="1.05"/>
<path transform="translate(692.5,502.8) rotate(-5)" d="M0.7,-3.8 A1.3,3.8 0 0 0 0.7,3.8" fill="none" stroke="#3a3a3a" stroke-width="0.85"/>
<ellipse cx="698.1" cy="507.5" rx="2.3" ry="5.0" transform="rotate(-5.0 698.1 507.5)" fill="#b1b3b6" stroke="#333" stroke-width="1.05"/>
<path transform="translate(698.1,507.5) rotate(-5)" d="M0.7,-3.8 A1.3,3.8 0 0 0 0.7,3.8" fill="none" stroke="#3a3a3a" stroke-width="0.85"/>
<ellipse cx="675.6" cy="531.9" rx="2.3" ry="5.0" transform="rotate(-5.0 675.6 531.9)" fill="#b1b3b6" stroke="#333" stroke-width="1.05"/>
<path transform="translate(675.6,531.9) rotate(-5)" d="M0.7,-3.8 A1.3,3.8 0 0 0 0.7,3.8" fill="none" stroke="#3a3a3a" stroke-width="0.85"/>
<ellipse cx="686.0" cy="525.3" rx="2.3" ry="5.0" transform="rotate(-5.0 686.0 525.3)" fill="#b1b3b6" stroke="#333" stroke-width="1.05"/>
<path transform="translate(686.0,525.3) rotate(-5)" d="M0.7,-3.8 A1.3,3.8 0 0 0 0.7,3.8" fill="none" stroke="#3a3a3a" stroke-width="0.85"/>
<ellipse cx="692.5" cy="518.8" rx="2.3" ry="5.0" transform="rotate(-5.0 692.5 518.8)" fill="#b1b3b6" stroke="#333" stroke-width="1.05"/>
<path transform="translate(692.5,518.8) rotate(-5)" d="M0.7,-3.8 A1.3,3.8 0 0 0 0.7,3.8" fill="none" stroke="#3a3a3a" stroke-width="0.85"/>
<polygon points="601.6,495.3 667.2,522.5 671.0,524.4 671.0,569.4 667.2,570.3 601.6,545.0" fill="#aaadb1" stroke="#4d4d4d" stroke-width="1.0" stroke-linejoin="round" />
<line x1="667.5" y1="523.5" x2="667.5" y2="570.0" stroke="#4d4d4d" stroke-width="0.95"/>
<ellipse cx="609.0" cy="505.6" rx="4.2" ry="5.4" transform="rotate(-20.0 609.0 505.6)" fill="#b1b3b6" stroke="#333" stroke-width="1.05"/>
<path transform="translate(609.0,505.6) rotate(-20)" d="M1.3,-4.1 A2.3,4.1 0 0 0 1.3,4.1" fill="none" stroke="#3a3a3a" stroke-width="0.85"/>
<ellipse cx="620.3" cy="511.2" rx="4.2" ry="5.4" transform="rotate(-20.0 620.3 511.2)" fill="#b1b3b6" stroke="#333" stroke-width="1.05"/>
<path transform="translate(620.3,511.2) rotate(-20)" d="M1.3,-4.1 A2.3,4.1 0 0 0 1.3,4.1" fill="none" stroke="#3a3a3a" stroke-width="0.85"/>
<ellipse cx="632.5" cy="516.9" rx="4.2" ry="5.4" transform="rotate(-20.0 632.5 516.9)" fill="#b1b3b6" stroke="#333" stroke-width="1.05"/>
<path transform="translate(632.5,516.9) rotate(-20)" d="M1.3,-4.1 A2.3,4.1 0 0 0 1.3,4.1" fill="none" stroke="#3a3a3a" stroke-width="0.85"/>
<ellipse cx="643.8" cy="521.6" rx="4.2" ry="5.4" transform="rotate(-20.0 643.8 521.6)" fill="#b1b3b6" stroke="#333" stroke-width="1.05"/>
<path transform="translate(643.8,521.6) rotate(-20)" d="M1.3,-4.1 A2.3,4.1 0 0 0 1.3,4.1" fill="none" stroke="#3a3a3a" stroke-width="0.85"/>
<ellipse cx="613.8" cy="524.4" rx="4.2" ry="5.4" transform="rotate(-20.0 613.8 524.4)" fill="#b1b3b6" stroke="#333" stroke-width="1.05"/>
<path transform="translate(613.8,524.4) rotate(-20)" d="M1.3,-4.1 A2.3,4.1 0 0 0 1.3,4.1" fill="none" stroke="#3a3a3a" stroke-width="0.85"/>
<ellipse cx="626.0" cy="530.0" rx="4.2" ry="5.4" transform="rotate(-20.0 626.0 530.0)" fill="#b1b3b6" stroke="#333" stroke-width="1.05"/>
<path transform="translate(626.0,530.0) rotate(-20)" d="M1.3,-4.1 A2.3,4.1 0 0 0 1.3,4.1" fill="none" stroke="#3a3a3a" stroke-width="0.85"/>
<ellipse cx="638.1" cy="535.6" rx="4.2" ry="5.4" transform="rotate(-20.0 638.1 535.6)" fill="#b1b3b6" stroke="#333" stroke-width="1.05"/>
<path transform="translate(638.1,535.6) rotate(-20)" d="M1.3,-4.1 A2.3,4.1 0 0 0 1.3,4.1" fill="none" stroke="#3a3a3a" stroke-width="0.85"/>
<ellipse cx="609.0" cy="539.4" rx="4.2" ry="5.4" transform="rotate(-20.0 609.0 539.4)" fill="#b1b3b6" stroke="#333" stroke-width="1.05"/>
<path transform="translate(609.0,539.4) rotate(-20)" d="M1.3,-4.1 A2.3,4.1 0 0 0 1.3,4.1" fill="none" stroke="#3a3a3a" stroke-width="0.85"/>
<ellipse cx="620.3" cy="545.0" rx="4.2" ry="5.4" transform="rotate(-20.0 620.3 545.0)" fill="#b1b3b6" stroke="#333" stroke-width="1.05"/>
<path transform="translate(620.3,545.0) rotate(-20)" d="M1.3,-4.1 A2.3,4.1 0 0 0 1.3,4.1" fill="none" stroke="#3a3a3a" stroke-width="0.85"/>
<ellipse cx="632.5" cy="549.7" rx="4.2" ry="5.4" transform="rotate(-20.0 632.5 549.7)" fill="#b1b3b6" stroke="#333" stroke-width="1.05"/>
<path transform="translate(632.5,549.7) rotate(-20)" d="M1.3,-4.1 A2.3,4.1 0 0 0 1.3,4.1" fill="none" stroke="#3a3a3a" stroke-width="0.85"/>
<ellipse cx="643.8" cy="554.4" rx="4.2" ry="5.4" transform="rotate(-20.0 643.8 554.4)" fill="#b1b3b6" stroke="#333" stroke-width="1.05"/>
<path transform="translate(643.8,554.4) rotate(-20)" d="M1.3,-4.1 A2.3,4.1 0 0 0 1.3,4.1" fill="none" stroke="#3a3a3a" stroke-width="0.85"/>
<ellipse cx="658.8" cy="526.2" rx="4.2" ry="5.4" transform="rotate(-20.0 658.8 526.2)" fill="#b1b3b6" stroke="#333" stroke-width="1.05"/>
<path transform="translate(658.8,526.2) rotate(-20)" d="M1.3,-4.1 A2.3,4.1 0 0 0 1.3,4.1" fill="none" stroke="#3a3a3a" stroke-width="0.85"/>
<ellipse cx="658.8" cy="563.8" rx="4.2" ry="5.4" transform="rotate(-20.0 658.8 563.8)" fill="#b1b3b6" stroke="#333" stroke-width="1.05"/>
<path transform="translate(658.8,563.8) rotate(-20)" d="M1.3,-4.1 A2.3,4.1 0 0 0 1.3,4.1" fill="none" stroke="#3a3a3a" stroke-width="0.85"/>
<circle cx="655.0" cy="535.6" r="1.3" fill="#aaadb1" stroke="#444" stroke-width="0.6"/>
<circle cx="661.6" cy="537.5" r="1.3" fill="#aaadb1" stroke="#444" stroke-width="0.6"/>
<circle cx="655.0" cy="552.5" r="1.3" fill="#aaadb1" stroke="#444" stroke-width="0.6"/>
<circle cx="661.6" cy="556.2" r="1.3" fill="#aaadb1" stroke="#444" stroke-width="0.6"/>
<circle cx="605.0" cy="521.5" r="1.3" fill="#aaadb1" stroke="#444" stroke-width="0.6"/>
<circle cx="214" cy="127.75" r="12.7" fill="#fff" stroke="#1e1e1e" stroke-width="1.25"/>
<text x="214" y="133.8" text-anchor="middle" font-family="Liberation Sans" font-size="16.5" fill="#1a1a1a">1</text>
<line x1="214" y1="115" x2="214.0" y2="89.0" stroke="#1e1e1e" stroke-width="1.25"/>
<polygon points="214,79 218.7,91.0 214.0,89.0 209.3,91.0" fill="#111"/>
<line x1="226.8" y1="127.5" x2="279.8" y2="127.5" stroke="#1e1e1e" stroke-width="1.25"/>
<polygon points="289.8,127.5 277.8,132.2 279.8,127.5 277.8,122.8" fill="#111"/>
<circle cx="128.75" cy="178.5" r="12.7" fill="#fff" stroke="#1e1e1e" stroke-width="1.25"/>
<text x="128.75" y="184.5" text-anchor="middle" font-family="Liberation Sans" font-size="16.5" fill="#1a1a1a">2</text>
<line x1="141.4" y1="178.6" x2="195.0" y2="178.6" stroke="#1e1e1e" stroke-width="1.25"/>
<polygon points="205,178.6 193.0,183.3 195.0,178.6 193.0,173.9" fill="#111"/>
<line x1="128.75" y1="191.2" x2="128.8" y2="231.3" stroke="#1e1e1e" stroke-width="1.25"/>
<polygon points="128.75,241.3 124.0,229.3 128.8,231.3 133.4,229.3" fill="#111"/>
<circle cx="152.5" cy="616.3" r="12.7" fill="#fff" stroke="#1e1e1e" stroke-width="1.25"/>
<text x="152.5" y="622.3" text-anchor="middle" font-family="Liberation Sans" font-size="16.5" fill="#1a1a1a">3</text>
<line x1="152.5" y1="603.6" x2="152.5" y2="577.5" stroke="#1e1e1e" stroke-width="1.25"/>
<polygon points="152.5,567.5 157.2,579.5 152.5,577.5 147.8,579.5" fill="#111"/>
<circle cx="416.25" cy="616.3" r="12.7" fill="#fff" stroke="#1e1e1e" stroke-width="1.25"/>
<text x="416.25" y="622.3" text-anchor="middle" font-family="Liberation Sans" font-size="16.5" fill="#1a1a1a">4</text>
<line x1="416.25" y1="603.6" x2="416.2" y2="577.0" stroke="#1e1e1e" stroke-width="1.25"/>
<polygon points="416.25,567 420.9,579.0 416.2,577.0 411.6,579.0" fill="#111"/>
<circle cx="667.4" cy="616.3" r="12.7" fill="#fff" stroke="#1e1e1e" stroke-width="1.25"/>
<text x="667.4" y="622.3" text-anchor="middle" font-family="Liberation Sans" font-size="16.5" fill="#1a1a1a">5</text>
<line x1="667.4" y1="603.6" x2="667.4" y2="580.6" stroke="#1e1e1e" stroke-width="1.25"/>
<polygon points="667.4,570.6 672.1,582.6 667.4,580.6 662.7,582.6" fill="#111"/>
<text x="550" y="312" font-family="Liberation Sans" font-size="39" letter-spacing="1.2" fill="#8a8a8a" fill-opacity="0.5">jhj.cn</text>
<text transform="translate(755,627) rotate(-90)" font-family="Liberation Sans" font-size="10.5" fill="#111">333901</text>
</svg>
</body></html>
